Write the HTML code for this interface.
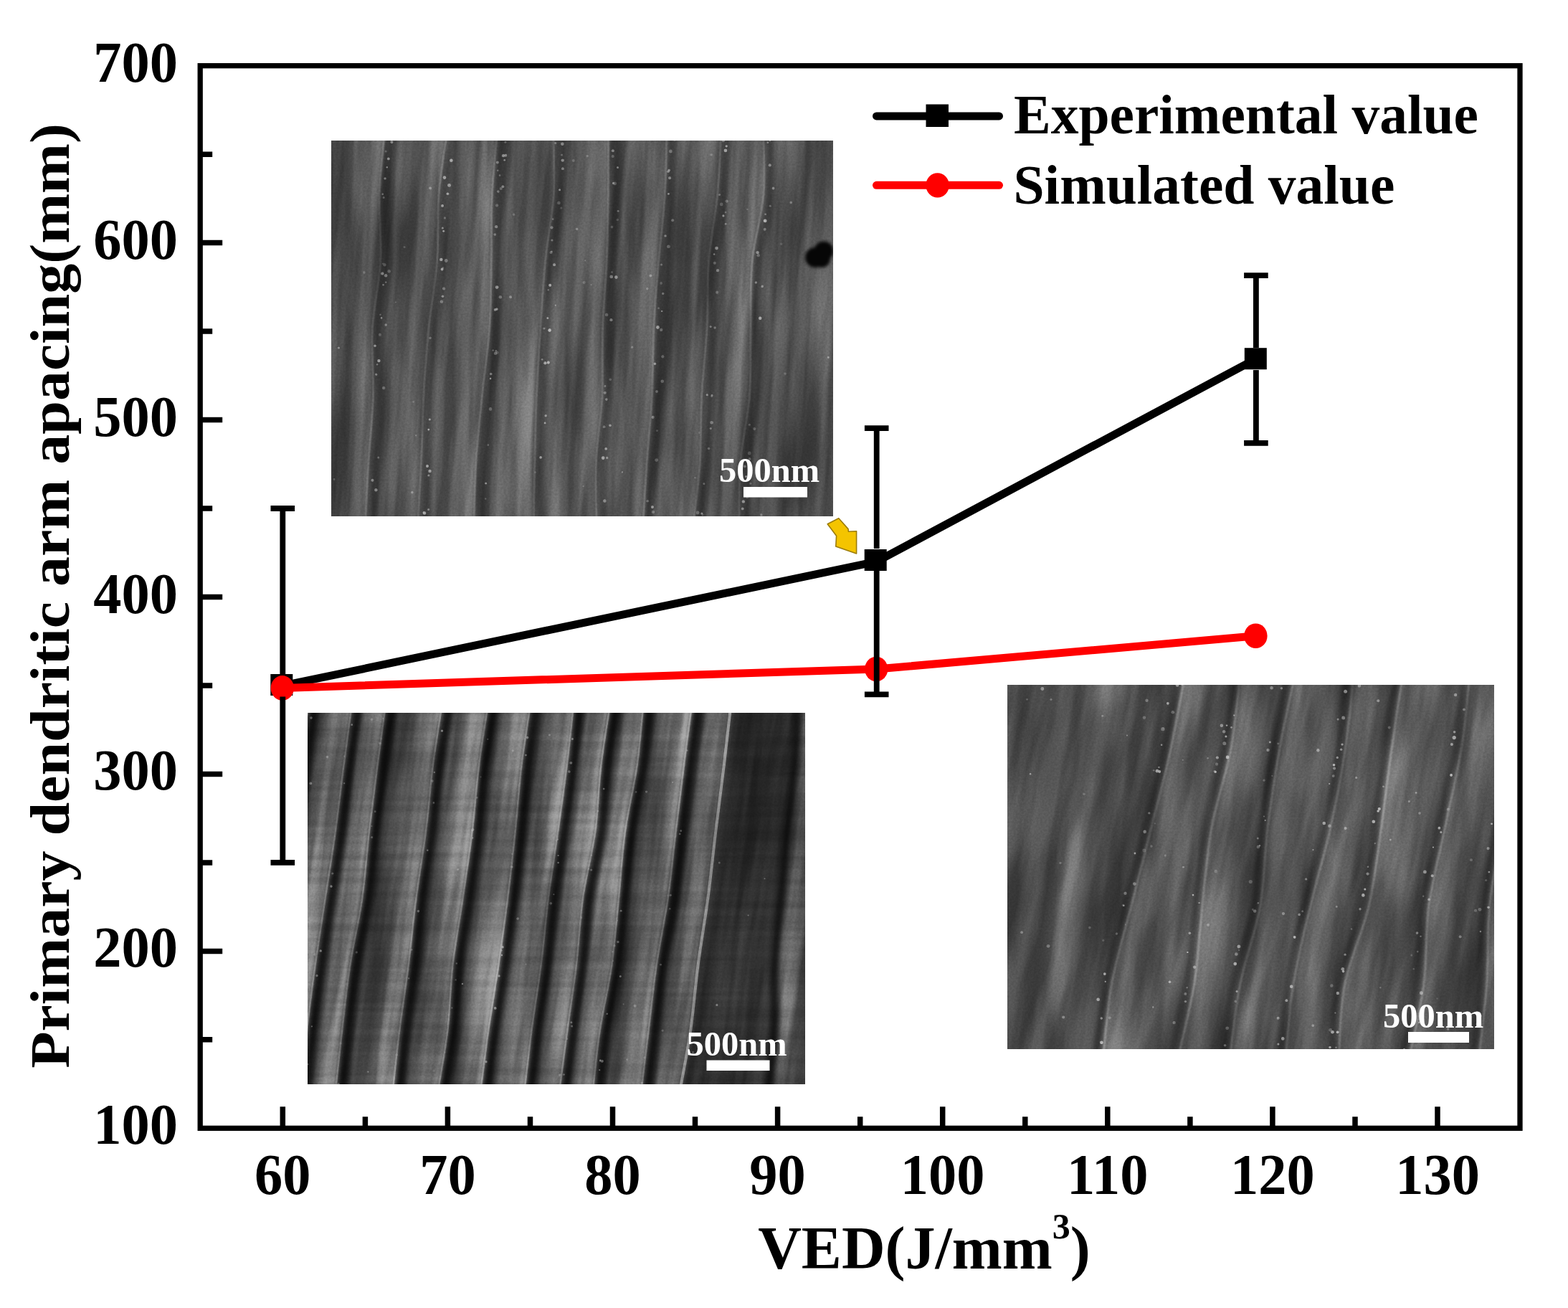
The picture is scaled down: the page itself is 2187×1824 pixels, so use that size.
<!DOCTYPE html>
<html><head><meta charset="utf-8"><title>Primary dendritic arm spacing vs VED</title>
<style>
html,body{margin:0;padding:0;background:#fff;}
body{width:2187px;height:1824px;overflow:hidden;}
svg{display:block;}
text{font-family:"Liberation Serif","Times New Roman",serif;font-weight:bold;fill:#000;}
</style></head><body>
<svg width="2187" height="1824" viewBox="0 0 2187 1824">
<defs>
<clipPath id="ci1"><rect x="462" y="196" width="700" height="524"/></clipPath>
<filter id="fi1_1" color-interpolation-filters="sRGB" filterUnits="userSpaceOnUse" x="422" y="156" width="780" height="604"><feGaussianBlur stdDeviation="1"/></filter>
<filter id="fi1_2" color-interpolation-filters="sRGB" filterUnits="userSpaceOnUse" x="422" y="156" width="780" height="604"><feGaussianBlur stdDeviation="2"/></filter>
<filter id="fi1_3_5" color-interpolation-filters="sRGB" filterUnits="userSpaceOnUse" x="422" y="156" width="780" height="604"><feGaussianBlur stdDeviation="3.5"/></filter>
<filter id="fi1_5" color-interpolation-filters="sRGB" filterUnits="userSpaceOnUse" x="422" y="156" width="780" height="604"><feGaussianBlur stdDeviation="5"/></filter>
<filter id="fi1_7" color-interpolation-filters="sRGB" filterUnits="userSpaceOnUse" x="422" y="156" width="780" height="604"><feGaussianBlur stdDeviation="7"/></filter>
<filter id="fi1_10" color-interpolation-filters="sRGB" filterUnits="userSpaceOnUse" x="422" y="156" width="780" height="604"><feGaussianBlur stdDeviation="10"/></filter>
<filter id="fi1_14" color-interpolation-filters="sRGB" filterUnits="userSpaceOnUse" x="422" y="156" width="780" height="604"><feGaussianBlur stdDeviation="14"/></filter>
<clipPath id="ci2"><rect x="429" y="994" width="694" height="518"/></clipPath>
<filter id="fi2_1" color-interpolation-filters="sRGB" filterUnits="userSpaceOnUse" x="389" y="954" width="774" height="598"><feGaussianBlur stdDeviation="1"/></filter>
<filter id="fi2_2" color-interpolation-filters="sRGB" filterUnits="userSpaceOnUse" x="389" y="954" width="774" height="598"><feGaussianBlur stdDeviation="2"/></filter>
<filter id="fi2_3_5" color-interpolation-filters="sRGB" filterUnits="userSpaceOnUse" x="389" y="954" width="774" height="598"><feGaussianBlur stdDeviation="3.5"/></filter>
<filter id="fi2_5" color-interpolation-filters="sRGB" filterUnits="userSpaceOnUse" x="389" y="954" width="774" height="598"><feGaussianBlur stdDeviation="5"/></filter>
<filter id="fi2_7" color-interpolation-filters="sRGB" filterUnits="userSpaceOnUse" x="389" y="954" width="774" height="598"><feGaussianBlur stdDeviation="7"/></filter>
<filter id="fi2_10" color-interpolation-filters="sRGB" filterUnits="userSpaceOnUse" x="389" y="954" width="774" height="598"><feGaussianBlur stdDeviation="10"/></filter>
<filter id="fi2_14" color-interpolation-filters="sRGB" filterUnits="userSpaceOnUse" x="389" y="954" width="774" height="598"><feGaussianBlur stdDeviation="14"/></filter>
<clipPath id="ci3"><rect x="1405" y="955" width="679" height="508"/></clipPath>
<filter id="fi3_1" color-interpolation-filters="sRGB" filterUnits="userSpaceOnUse" x="1365" y="915" width="759" height="588"><feGaussianBlur stdDeviation="1"/></filter>
<filter id="fi3_2" color-interpolation-filters="sRGB" filterUnits="userSpaceOnUse" x="1365" y="915" width="759" height="588"><feGaussianBlur stdDeviation="2"/></filter>
<filter id="fi3_3_5" color-interpolation-filters="sRGB" filterUnits="userSpaceOnUse" x="1365" y="915" width="759" height="588"><feGaussianBlur stdDeviation="3.5"/></filter>
<filter id="fi3_5" color-interpolation-filters="sRGB" filterUnits="userSpaceOnUse" x="1365" y="915" width="759" height="588"><feGaussianBlur stdDeviation="5"/></filter>
<filter id="fi3_7" color-interpolation-filters="sRGB" filterUnits="userSpaceOnUse" x="1365" y="915" width="759" height="588"><feGaussianBlur stdDeviation="7"/></filter>
<filter id="fi3_10" color-interpolation-filters="sRGB" filterUnits="userSpaceOnUse" x="1365" y="915" width="759" height="588"><feGaussianBlur stdDeviation="10"/></filter>
<filter id="fi3_14" color-interpolation-filters="sRGB" filterUnits="userSpaceOnUse" x="1365" y="915" width="759" height="588"><feGaussianBlur stdDeviation="14"/></filter>
<filter id="grain" color-interpolation-filters="sRGB" x="0" y="0" width="100%" height="100%">
  <feTurbulence type="fractalNoise" baseFrequency="0.35" numOctaves="2" seed="4"/>
  <feColorMatrix type="matrix" values="2 0 0 0 -0.5  2 0 0 0 -0.5  2 0 0 0 -0.5  0 0 0 0 1"/>
</filter>
<filter id="streakV" color-interpolation-filters="sRGB" x="0" y="0" width="100%" height="100%">
  <feTurbulence type="fractalNoise" baseFrequency="0.05 0.004" numOctaves="3" seed="9"/>
  <feColorMatrix type="matrix" values="2.4 0 0 0 -0.7  2.4 0 0 0 -0.7  2.4 0 0 0 -0.7  0 0 0 0 1"/>
</filter>
<filter id="streakV2" color-interpolation-filters="sRGB" x="0" y="0" width="100%" height="100%">
  <feTurbulence type="fractalNoise" baseFrequency="0.035 0.005" numOctaves="3" seed="21"/>
  <feColorMatrix type="matrix" values="2.4 0 0 0 -0.7  2.4 0 0 0 -0.7  2.4 0 0 0 -0.7  0 0 0 0 1"/>
</filter>
<filter id="streakH" color-interpolation-filters="sRGB" x="0" y="0" width="100%" height="100%">
  <feTurbulence type="fractalNoise" baseFrequency="0.004 0.09" numOctaves="2" seed="13"/>
  <feColorMatrix type="matrix" values="2.2 0 0 0 -0.6  2.2 0 0 0 -0.6  2.2 0 0 0 -0.6  0 0 0 0 1"/>
</filter>
<filter id="blob" color-interpolation-filters="sRGB" x="0" y="0" width="100%" height="100%">
  <feTurbulence type="fractalNoise" baseFrequency="0.01 0.004" numOctaves="2" seed="31"/>
  <feColorMatrix type="matrix" values="2 0 0 0 -0.5  2 0 0 0 -0.5  2 0 0 0 -0.5  0 0 0 0 1"/>
</filter>
</defs>
<rect x="0" y="0" width="2187" height="1824" fill="#fff"/>
<g clip-path="url(#ci1)">
<rect x="462" y="196" width="700" height="524" fill="#4f4f4f"/>
<g filter="url(#fi1_7)"><path d="M526.3,176.0C525.0,191.7 519.4,238.7 518.3,270.0C517.2,301.3 521.5,332.7 519.8,364.0C518.2,395.3 510.1,426.7 508.4,458.0C506.6,489.3 510.3,520.7 509.4,552.0C508.5,583.3 504.8,614.7 502.9,646.0C501.0,677.3 499.0,724.3 498.2,740.0" fill="none" stroke="#636363" stroke-width="22" stroke-opacity="0.85"/><path d="M568.3,176.0C567.0,191.7 561.4,238.7 560.3,270.0C559.2,301.3 563.5,332.7 561.8,364.0C560.2,395.3 552.1,426.7 550.4,458.0C548.6,489.3 552.3,520.7 551.4,552.0C550.5,583.3 546.8,614.7 544.9,646.0C543.0,677.3 541.0,724.3 540.2,740.0" fill="none" stroke="#5c5c5c" stroke-width="16" stroke-opacity="0.6"/><path d="M614.0,176.0C611.9,191.7 603.7,238.7 601.1,270.0C598.5,301.3 600.9,332.7 598.5,364.0C596.2,395.3 590.0,426.7 586.8,458.0C583.7,489.3 581.5,520.7 579.8,552.0C578.0,583.3 577.8,614.7 576.4,646.0C575.0,677.3 572.2,724.3 571.3,740.0" fill="none" stroke="#636363" stroke-width="22" stroke-opacity="0.85"/><path d="M656.0,176.0C653.9,191.7 645.7,238.7 643.1,270.0C640.5,301.3 642.9,332.7 640.5,364.0C638.2,395.3 632.0,426.7 628.8,458.0C625.7,489.3 623.5,520.7 621.8,552.0C620.0,583.3 619.8,614.7 618.4,646.0C617.0,677.3 614.2,724.3 613.3,740.0" fill="none" stroke="#5c5c5c" stroke-width="16" stroke-opacity="0.6"/><path d="M683.5,176.0C682.2,191.7 677.1,238.7 675.5,270.0C674.0,301.3 674.8,332.7 674.2,364.0C673.6,395.3 674.0,426.7 671.9,458.0C669.7,489.3 664.4,520.7 661.3,552.0C658.1,583.3 654.8,614.7 652.9,646.0C651.0,677.3 650.4,724.3 649.9,740.0" fill="none" stroke="#636363" stroke-width="22" stroke-opacity="0.85"/><path d="M725.5,176.0C724.2,191.7 719.1,238.7 717.5,270.0C716.0,301.3 716.8,332.7 716.2,364.0C715.6,395.3 716.0,426.7 713.9,458.0C711.7,489.3 706.4,520.7 703.3,552.0C700.1,583.3 696.8,614.7 694.9,646.0C693.0,677.3 692.4,724.3 691.9,740.0" fill="none" stroke="#5c5c5c" stroke-width="16" stroke-opacity="0.6"/><path d="M760.2,176.0C760.4,191.7 763.1,238.7 761.3,270.0C759.5,301.3 752.6,332.7 749.5,364.0C746.4,395.3 744.7,426.7 742.7,458.0C740.7,489.3 738.8,520.7 737.4,552.0C736.1,583.3 735.4,614.7 734.7,646.0C734.0,677.3 733.5,724.3 733.3,740.0" fill="none" stroke="#636363" stroke-width="22" stroke-opacity="0.85"/><path d="M802.2,176.0C802.4,191.7 805.1,238.7 803.3,270.0C801.5,301.3 794.6,332.7 791.5,364.0C788.4,395.3 786.7,426.7 784.7,458.0C782.7,489.3 780.8,520.7 779.4,552.0C778.1,583.3 777.4,614.7 776.7,646.0C776.0,677.3 775.5,724.3 775.3,740.0" fill="none" stroke="#5c5c5c" stroke-width="16" stroke-opacity="0.6"/><path d="M837.7,176.0C837.7,191.7 837.7,238.7 837.3,270.0C836.9,301.3 836.6,332.7 835.3,364.0C834.0,395.3 830.5,426.7 829.5,458.0C828.4,489.3 830.4,520.7 828.9,552.0C827.4,583.3 821.7,614.7 820.4,646.0C819.1,677.3 821.1,724.3 821.2,740.0" fill="none" stroke="#636363" stroke-width="22" stroke-opacity="0.85"/><path d="M879.7,176.0C879.7,191.7 879.7,238.7 879.3,270.0C878.9,301.3 878.6,332.7 877.3,364.0C876.0,395.3 872.5,426.7 871.5,458.0C870.4,489.3 872.4,520.7 870.9,552.0C869.4,583.3 863.7,614.7 862.4,646.0C861.1,677.3 863.1,724.3 863.2,740.0" fill="none" stroke="#5c5c5c" stroke-width="16" stroke-opacity="0.6"/><path d="M918.8,176.0C918.4,191.7 918.3,238.7 916.5,270.0C914.7,301.3 910.4,332.7 907.8,364.0C905.2,395.3 902.3,426.7 900.8,458.0C899.2,489.3 900.0,520.7 898.4,552.0C896.7,583.3 893.3,614.7 891.1,646.0C888.9,677.3 886.2,724.3 885.2,740.0" fill="none" stroke="#636363" stroke-width="22" stroke-opacity="0.85"/><path d="M960.8,176.0C960.4,191.7 960.3,238.7 958.5,270.0C956.7,301.3 952.4,332.7 949.8,364.0C947.2,395.3 944.3,426.7 942.8,458.0C941.2,489.3 942.0,520.7 940.4,552.0C938.7,583.3 935.3,614.7 933.1,646.0C930.9,677.3 928.2,724.3 927.2,740.0" fill="none" stroke="#5c5c5c" stroke-width="16" stroke-opacity="0.6"/><path d="M995.2,176.0C994.3,191.7 992.7,238.7 989.7,270.0C986.8,301.3 980.1,332.7 977.6,364.0C975.1,395.3 976.6,426.7 974.9,458.0C973.2,489.3 969.3,520.7 967.6,552.0C966.0,583.3 967.3,614.7 965.2,646.0C963.0,677.3 956.6,724.3 954.9,740.0" fill="none" stroke="#636363" stroke-width="22" stroke-opacity="0.85"/><path d="M1037.2,176.0C1036.3,191.7 1034.7,238.7 1031.7,270.0C1028.8,301.3 1022.1,332.7 1019.6,364.0C1017.1,395.3 1018.6,426.7 1016.9,458.0C1015.2,489.3 1011.3,520.7 1009.6,552.0C1008.0,583.3 1009.3,614.7 1007.2,646.0C1005.0,677.3 998.6,724.3 996.9,740.0" fill="none" stroke="#5c5c5c" stroke-width="16" stroke-opacity="0.6"/><path d="M1053.2,176.0C1053.3,191.7 1056.6,238.7 1054.1,270.0C1051.6,301.3 1041.1,332.7 1038.1,364.0C1035.1,395.3 1036.6,426.7 1036.0,458.0C1035.4,489.3 1036.8,520.7 1034.4,552.0C1032.0,583.3 1023.9,614.7 1021.5,646.0C1019.1,677.3 1020.2,724.3 1020.0,740.0" fill="none" stroke="#636363" stroke-width="22" stroke-opacity="0.85"/><path d="M1095.2,176.0C1095.3,191.7 1098.6,238.7 1096.1,270.0C1093.6,301.3 1083.1,332.7 1080.1,364.0C1077.1,395.3 1078.6,426.7 1078.0,458.0C1077.4,489.3 1078.8,520.7 1076.4,552.0C1074.0,583.3 1065.9,614.7 1063.5,646.0C1061.1,677.3 1062.2,724.3 1062.0,740.0" fill="none" stroke="#5c5c5c" stroke-width="16" stroke-opacity="0.6"/><path d="M476.5,176.0C475.9,194.8 472.9,251.2 472.4,288.8C471.9,326.4 473.5,364.0 473.8,401.6C474.0,439.2 473.8,476.8 473.7,514.4C473.6,552.0 473.8,589.6 473.0,627.2C472.1,664.8 469.4,721.2 468.6,740.0" fill="none" stroke="#444" stroke-width="20" stroke-opacity="0.8"/></g>
<g filter="url(#fi1_3_5)"><path d="M546.3,176.0C545.0,191.7 539.4,238.7 538.3,270.0C537.2,301.3 541.5,332.7 539.8,364.0C538.2,395.3 530.1,426.7 528.4,458.0C526.6,489.3 530.3,520.7 529.4,552.0C528.5,583.3 524.8,614.7 522.9,646.0C521.0,677.3 519.0,724.3 518.2,740.0" fill="none" stroke="#333" stroke-width="13" stroke-opacity="0.8"/><path d="M634.0,176.0C631.9,191.7 623.7,238.7 621.1,270.0C618.5,301.3 620.9,332.7 618.5,364.0C616.2,395.3 610.0,426.7 606.8,458.0C603.7,489.3 601.5,520.7 599.8,552.0C598.0,583.3 597.8,614.7 596.4,646.0C595.0,677.3 592.2,724.3 591.3,740.0" fill="none" stroke="#333" stroke-width="13" stroke-opacity="0.8"/><path d="M703.5,176.0C702.2,191.7 697.1,238.7 695.5,270.0C694.0,301.3 694.8,332.7 694.2,364.0C693.6,395.3 694.0,426.7 691.9,458.0C689.7,489.3 684.4,520.7 681.3,552.0C678.1,583.3 674.8,614.7 672.9,646.0C671.0,677.3 670.4,724.3 669.9,740.0" fill="none" stroke="#333" stroke-width="13" stroke-opacity="0.8"/><path d="M780.2,176.0C780.4,191.7 783.1,238.7 781.3,270.0C779.5,301.3 772.6,332.7 769.5,364.0C766.4,395.3 764.7,426.7 762.7,458.0C760.7,489.3 758.8,520.7 757.4,552.0C756.1,583.3 755.4,614.7 754.7,646.0C754.0,677.3 753.5,724.3 753.3,740.0" fill="none" stroke="#333" stroke-width="13" stroke-opacity="0.8"/><path d="M857.7,176.0C857.7,191.7 857.7,238.7 857.3,270.0C856.9,301.3 856.6,332.7 855.3,364.0C854.0,395.3 850.5,426.7 849.5,458.0C848.4,489.3 850.4,520.7 848.9,552.0C847.4,583.3 841.7,614.7 840.4,646.0C839.1,677.3 841.1,724.3 841.2,740.0" fill="none" stroke="#333" stroke-width="13" stroke-opacity="0.8"/><path d="M938.8,176.0C938.4,191.7 938.3,238.7 936.5,270.0C934.7,301.3 930.4,332.7 927.8,364.0C925.2,395.3 922.3,426.7 920.8,458.0C919.2,489.3 920.0,520.7 918.4,552.0C916.7,583.3 913.3,614.7 911.1,646.0C908.9,677.3 906.2,724.3 905.2,740.0" fill="none" stroke="#333" stroke-width="13" stroke-opacity="0.8"/><path d="M1015.2,176.0C1014.3,191.7 1012.7,238.7 1009.7,270.0C1006.8,301.3 1000.1,332.7 997.6,364.0C995.1,395.3 996.6,426.7 994.9,458.0C993.2,489.3 989.3,520.7 987.6,552.0C986.0,583.3 987.3,614.7 985.2,646.0C983.0,677.3 976.6,724.3 974.9,740.0" fill="none" stroke="#333" stroke-width="13" stroke-opacity="0.8"/><path d="M1073.2,176.0C1073.3,191.7 1076.6,238.7 1074.1,270.0C1071.6,301.3 1061.1,332.7 1058.1,364.0C1055.1,395.3 1056.6,426.7 1056.0,458.0C1055.4,489.3 1056.8,520.7 1054.4,552.0C1052.0,583.3 1043.9,614.7 1041.5,646.0C1039.1,677.3 1040.2,724.3 1040.0,740.0" fill="none" stroke="#333" stroke-width="13" stroke-opacity="0.8"/></g>
<g filter="url(#fi1_1_5)"><path d="M537.3,176.0C536.0,191.7 530.4,238.7 529.3,270.0C528.2,301.3 532.5,332.7 530.8,364.0C529.2,395.3 521.1,426.7 519.4,458.0C517.6,489.3 521.3,520.7 520.4,552.0C519.5,583.3 515.8,614.7 513.9,646.0C512.0,677.3 510.0,724.3 509.2,740.0" fill="none" stroke="#7a7a7a" stroke-width="3" stroke-opacity="0.5"/><path d="M625.0,176.0C622.9,191.7 614.7,238.7 612.1,270.0C609.5,301.3 611.9,332.7 609.5,364.0C607.2,395.3 601.0,426.7 597.8,458.0C594.7,489.3 592.5,520.7 590.8,552.0C589.0,583.3 588.8,614.7 587.4,646.0C586.0,677.3 583.2,724.3 582.3,740.0" fill="none" stroke="#7a7a7a" stroke-width="3" stroke-opacity="0.5"/><path d="M694.5,176.0C693.2,191.7 688.1,238.7 686.5,270.0C685.0,301.3 685.8,332.7 685.2,364.0C684.6,395.3 685.0,426.7 682.9,458.0C680.7,489.3 675.4,520.7 672.3,552.0C669.1,583.3 665.8,614.7 663.9,646.0C662.0,677.3 661.4,724.3 660.9,740.0" fill="none" stroke="#7a7a7a" stroke-width="3" stroke-opacity="0.5"/><path d="M771.2,176.0C771.4,191.7 774.1,238.7 772.3,270.0C770.5,301.3 763.6,332.7 760.5,364.0C757.4,395.3 755.7,426.7 753.7,458.0C751.7,489.3 749.8,520.7 748.4,552.0C747.1,583.3 746.4,614.7 745.7,646.0C745.0,677.3 744.5,724.3 744.3,740.0" fill="none" stroke="#7a7a7a" stroke-width="3" stroke-opacity="0.5"/><path d="M848.7,176.0C848.7,191.7 848.7,238.7 848.3,270.0C847.9,301.3 847.6,332.7 846.3,364.0C845.0,395.3 841.5,426.7 840.5,458.0C839.4,489.3 841.4,520.7 839.9,552.0C838.4,583.3 832.7,614.7 831.4,646.0C830.1,677.3 832.1,724.3 832.2,740.0" fill="none" stroke="#7a7a7a" stroke-width="3" stroke-opacity="0.5"/><path d="M929.8,176.0C929.4,191.7 929.3,238.7 927.5,270.0C925.7,301.3 921.4,332.7 918.8,364.0C916.2,395.3 913.3,426.7 911.8,458.0C910.2,489.3 911.0,520.7 909.4,552.0C907.7,583.3 904.3,614.7 902.1,646.0C899.9,677.3 897.2,724.3 896.2,740.0" fill="none" stroke="#7a7a7a" stroke-width="3" stroke-opacity="0.5"/><path d="M1006.2,176.0C1005.3,191.7 1003.7,238.7 1000.7,270.0C997.8,301.3 991.1,332.7 988.6,364.0C986.1,395.3 987.6,426.7 985.9,458.0C984.2,489.3 980.3,520.7 978.6,552.0C977.0,583.3 978.3,614.7 976.2,646.0C974.0,677.3 967.6,724.3 965.9,740.0" fill="none" stroke="#7a7a7a" stroke-width="3" stroke-opacity="0.5"/><path d="M1064.2,176.0C1064.3,191.7 1067.6,238.7 1065.1,270.0C1062.6,301.3 1052.1,332.7 1049.1,364.0C1046.1,395.3 1047.6,426.7 1047.0,458.0C1046.4,489.3 1047.8,520.7 1045.4,552.0C1043.0,583.3 1034.9,614.7 1032.5,646.0C1030.1,677.3 1031.2,724.3 1031.0,740.0" fill="none" stroke="#7a7a7a" stroke-width="3" stroke-opacity="0.5"/></g>
<circle cx="546.4" cy="198.1" r="2.1" fill="#b8b8b8" fill-opacity="0.61"/><circle cx="519.5" cy="669.8" r="2.0" fill="#b8b8b8" fill-opacity="0.62"/><circle cx="528.4" cy="503.1" r="2.2" fill="#b8b8b8" fill-opacity="0.78"/><circle cx="532.1" cy="443.4" r="1.3" fill="#b8b8b8" fill-opacity="0.67"/><circle cx="535.2" cy="541.0" r="2.2" fill="#b8b8b8" fill-opacity="0.48"/><circle cx="538.2" cy="393.6" r="1.2" fill="#b8b8b8" fill-opacity="0.56"/><circle cx="533.7" cy="270.8" r="1.3" fill="#b8b8b8" fill-opacity="0.70"/><circle cx="537.1" cy="248.9" r="1.7" fill="#b8b8b8" fill-opacity="0.74"/><circle cx="541.8" cy="221.4" r="1.9" fill="#b8b8b8" fill-opacity="0.75"/><circle cx="527.8" cy="638.1" r="1.5" fill="#b8b8b8" fill-opacity="0.54"/><circle cx="542.7" cy="378.3" r="2.3" fill="#b8b8b8" fill-opacity="0.42"/><circle cx="535.2" cy="275.4" r="1.5" fill="#b8b8b8" fill-opacity="0.57"/><circle cx="526.1" cy="508.3" r="1.2" fill="#b8b8b8" fill-opacity="0.54"/><circle cx="538.1" cy="384.3" r="2.3" fill="#b8b8b8" fill-opacity="0.66"/><circle cx="529.9" cy="466.7" r="2.0" fill="#b8b8b8" fill-opacity="0.37"/><circle cx="524.4" cy="683.3" r="2.2" fill="#b8b8b8" fill-opacity="0.71"/><circle cx="534.5" cy="397.3" r="1.3" fill="#b8b8b8" fill-opacity="0.64"/><circle cx="538.1" cy="211.1" r="1.5" fill="#b8b8b8" fill-opacity="0.42"/><circle cx="534.0" cy="367.8" r="1.2" fill="#b8b8b8" fill-opacity="0.42"/><circle cx="539.8" cy="233.2" r="1.2" fill="#b8b8b8" fill-opacity="0.74"/><circle cx="524.9" cy="522.3" r="1.5" fill="#b8b8b8" fill-opacity="0.51"/><circle cx="533.2" cy="381.4" r="2.2" fill="#b8b8b8" fill-opacity="0.80"/><circle cx="530.5" cy="438.8" r="1.3" fill="#b8b8b8" fill-opacity="0.40"/><circle cx="536.3" cy="369.2" r="2.2" fill="#b8b8b8" fill-opacity="0.42"/><circle cx="550.6" cy="189.0" r="1.8" fill="#b8b8b8" fill-opacity="0.42"/><circle cx="523.0" cy="482.3" r="1.8" fill="#b8b8b8" fill-opacity="0.79"/><circle cx="597.9" cy="662.9" r="1.5" fill="#b8b8b8" fill-opacity="0.52"/><circle cx="624.4" cy="270.2" r="1.8" fill="#b8b8b8" fill-opacity="0.70"/><circle cx="615.3" cy="361.9" r="2.2" fill="#b8b8b8" fill-opacity="0.79"/><circle cx="599.5" cy="656.9" r="2.2" fill="#b8b8b8" fill-opacity="0.68"/><circle cx="620.4" cy="303.9" r="1.6" fill="#b8b8b8" fill-opacity="0.36"/><circle cx="629.2" cy="191.8" r="1.5" fill="#b8b8b8" fill-opacity="0.66"/><circle cx="592.0" cy="715.5" r="2.3" fill="#b8b8b8" fill-opacity="0.79"/><circle cx="591.1" cy="714.6" r="1.5" fill="#b8b8b8" fill-opacity="0.45"/><circle cx="617.1" cy="286.9" r="1.9" fill="#b8b8b8" fill-opacity="0.76"/><circle cx="596.0" cy="650.0" r="2.0" fill="#b8b8b8" fill-opacity="0.71"/><circle cx="629.4" cy="223.8" r="2.3" fill="#b8b8b8" fill-opacity="0.70"/><circle cx="597.8" cy="599.1" r="1.4" fill="#b8b8b8" fill-opacity="0.71"/><circle cx="622.2" cy="363.5" r="2.4" fill="#b8b8b8" fill-opacity="0.53"/><circle cx="619.1" cy="402.4" r="2.1" fill="#b8b8b8" fill-opacity="0.43"/><circle cx="620.0" cy="247.6" r="2.3" fill="#b8b8b8" fill-opacity="0.71"/><circle cx="626.6" cy="258.4" r="2.4" fill="#b8b8b8" fill-opacity="0.65"/><circle cx="617.9" cy="373.6" r="1.4" fill="#b8b8b8" fill-opacity="0.36"/><circle cx="594.0" cy="723.6" r="1.8" fill="#b8b8b8" fill-opacity="0.77"/><circle cx="615.9" cy="420.7" r="2.2" fill="#b8b8b8" fill-opacity="0.44"/><circle cx="617.3" cy="318.0" r="1.5" fill="#b8b8b8" fill-opacity="0.61"/><circle cx="618.7" cy="322.3" r="1.4" fill="#b8b8b8" fill-opacity="0.76"/><circle cx="616.6" cy="375.5" r="1.9" fill="#b8b8b8" fill-opacity="0.76"/><circle cx="617.4" cy="413.2" r="1.8" fill="#b8b8b8" fill-opacity="0.59"/><circle cx="600.1" cy="471.3" r="1.7" fill="#b8b8b8" fill-opacity="0.43"/><circle cx="637.3" cy="178.2" r="1.4" fill="#b8b8b8" fill-opacity="0.56"/><circle cx="599.3" cy="585.0" r="1.6" fill="#b8b8b8" fill-opacity="0.58"/><circle cx="691.8" cy="489.3" r="1.3" fill="#b8b8b8" fill-opacity="0.60"/><circle cx="692.2" cy="316.2" r="2.1" fill="#b8b8b8" fill-opacity="0.58"/><circle cx="691.1" cy="492.8" r="2.3" fill="#b8b8b8" fill-opacity="0.55"/><circle cx="684.8" cy="521.5" r="1.8" fill="#b8b8b8" fill-opacity="0.66"/><circle cx="692.9" cy="431.1" r="1.8" fill="#b8b8b8" fill-opacity="0.77"/><circle cx="684.1" cy="570.4" r="2.3" fill="#b8b8b8" fill-opacity="0.47"/><circle cx="693.4" cy="491.6" r="2.2" fill="#b8b8b8" fill-opacity="0.41"/><circle cx="697.0" cy="244.6" r="1.3" fill="#b8b8b8" fill-opacity="0.46"/><circle cx="702.0" cy="217.2" r="2.1" fill="#b8b8b8" fill-opacity="0.75"/><circle cx="698.7" cy="263.1" r="2.0" fill="#b8b8b8" fill-opacity="0.41"/><circle cx="677.6" cy="673.9" r="1.5" fill="#b8b8b8" fill-opacity="0.78"/><circle cx="693.1" cy="400.6" r="2.4" fill="#b8b8b8" fill-opacity="0.72"/><circle cx="694.9" cy="267.1" r="1.8" fill="#b8b8b8" fill-opacity="0.50"/><circle cx="693.1" cy="286.4" r="2.1" fill="#b8b8b8" fill-opacity="0.36"/><circle cx="687.7" cy="488.5" r="1.2" fill="#b8b8b8" fill-opacity="0.50"/><circle cx="684.1" cy="527.9" r="1.3" fill="#b8b8b8" fill-opacity="0.79"/><circle cx="680.8" cy="620.6" r="1.3" fill="#b8b8b8" fill-opacity="0.47"/><circle cx="704.9" cy="198.3" r="1.5" fill="#b8b8b8" fill-opacity="0.41"/><circle cx="697.9" cy="414.2" r="2.2" fill="#b8b8b8" fill-opacity="0.47"/><circle cx="701.4" cy="260.2" r="1.9" fill="#b8b8b8" fill-opacity="0.67"/><circle cx="693.9" cy="226.5" r="2.0" fill="#b8b8b8" fill-opacity="0.54"/><circle cx="705.3" cy="216.8" r="2.0" fill="#b8b8b8" fill-opacity="0.71"/><circle cx="703.8" cy="223.2" r="1.3" fill="#b8b8b8" fill-opacity="0.74"/><circle cx="690.6" cy="431.9" r="1.9" fill="#b8b8b8" fill-opacity="0.77"/><circle cx="690.3" cy="327.1" r="1.8" fill="#b8b8b8" fill-opacity="0.46"/><circle cx="694.2" cy="237.7" r="1.3" fill="#b8b8b8" fill-opacity="0.44"/><circle cx="768.6" cy="352.0" r="2.1" fill="#b8b8b8" fill-opacity="0.48"/><circle cx="758.9" cy="458.0" r="1.6" fill="#b8b8b8" fill-opacity="0.36"/><circle cx="769.5" cy="317.3" r="2.1" fill="#b8b8b8" fill-opacity="0.60"/><circle cx="779.4" cy="282.9" r="2.3" fill="#b8b8b8" fill-opacity="0.40"/><circle cx="754.1" cy="637.9" r="1.8" fill="#b8b8b8" fill-opacity="0.73"/><circle cx="767.1" cy="397.7" r="2.0" fill="#b8b8b8" fill-opacity="0.79"/><circle cx="773.1" cy="369.3" r="2.0" fill="#b8b8b8" fill-opacity="0.64"/><circle cx="764.8" cy="404.2" r="1.3" fill="#b8b8b8" fill-opacity="0.41"/><circle cx="783.6" cy="215.9" r="1.5" fill="#b8b8b8" fill-opacity="0.42"/><circle cx="784.8" cy="223.6" r="2.2" fill="#b8b8b8" fill-opacity="0.65"/><circle cx="770.0" cy="335.0" r="1.6" fill="#b8b8b8" fill-opacity="0.56"/><circle cx="780.6" cy="264.8" r="1.5" fill="#b8b8b8" fill-opacity="0.78"/><circle cx="754.1" cy="724.6" r="1.5" fill="#b8b8b8" fill-opacity="0.78"/><circle cx="769.4" cy="350.6" r="1.2" fill="#b8b8b8" fill-opacity="0.52"/><circle cx="763.8" cy="443.7" r="1.4" fill="#b8b8b8" fill-opacity="0.58"/><circle cx="777.4" cy="178.8" r="1.3" fill="#b8b8b8" fill-opacity="0.53"/><circle cx="774.7" cy="199.5" r="1.6" fill="#b8b8b8" fill-opacity="0.45"/><circle cx="760.4" cy="506.3" r="2.1" fill="#b8b8b8" fill-opacity="0.65"/><circle cx="761.2" cy="579.8" r="1.7" fill="#b8b8b8" fill-opacity="0.50"/><circle cx="749.2" cy="731.4" r="2.1" fill="#b8b8b8" fill-opacity="0.64"/><circle cx="784.5" cy="200.7" r="2.3" fill="#b8b8b8" fill-opacity="0.63"/><circle cx="760.1" cy="589.9" r="1.4" fill="#b8b8b8" fill-opacity="0.59"/><circle cx="766.6" cy="460.5" r="2.2" fill="#b8b8b8" fill-opacity="0.72"/><circle cx="764.8" cy="505.4" r="2.0" fill="#b8b8b8" fill-opacity="0.66"/><circle cx="771.2" cy="305.7" r="1.4" fill="#b8b8b8" fill-opacity="0.51"/><circle cx="784.9" cy="235.2" r="1.9" fill="#b8b8b8" fill-opacity="0.63"/><circle cx="851.2" cy="529.2" r="1.8" fill="#b8b8b8" fill-opacity="0.35"/><circle cx="845.2" cy="625.9" r="1.8" fill="#b8b8b8" fill-opacity="0.59"/><circle cx="843.7" cy="547.8" r="2.1" fill="#b8b8b8" fill-opacity="0.46"/><circle cx="854.7" cy="218.0" r="2.1" fill="#b8b8b8" fill-opacity="0.44"/><circle cx="850.9" cy="593.3" r="1.8" fill="#b8b8b8" fill-opacity="0.52"/><circle cx="852.4" cy="446.2" r="2.1" fill="#b8b8b8" fill-opacity="0.63"/><circle cx="843.9" cy="538.5" r="1.4" fill="#b8b8b8" fill-opacity="0.46"/><circle cx="842.7" cy="595.2" r="1.9" fill="#b8b8b8" fill-opacity="0.36"/><circle cx="854.8" cy="210.2" r="2.0" fill="#b8b8b8" fill-opacity="0.66"/><circle cx="845.9" cy="557.1" r="1.8" fill="#b8b8b8" fill-opacity="0.56"/><circle cx="846.1" cy="439.0" r="2.3" fill="#b8b8b8" fill-opacity="0.44"/><circle cx="846.4" cy="727.7" r="1.2" fill="#b8b8b8" fill-opacity="0.56"/><circle cx="846.7" cy="638.4" r="1.7" fill="#b8b8b8" fill-opacity="0.47"/><circle cx="862.1" cy="294.3" r="1.5" fill="#b8b8b8" fill-opacity="0.61"/><circle cx="857.7" cy="255.9" r="2.3" fill="#b8b8b8" fill-opacity="0.41"/><circle cx="841.2" cy="638.6" r="2.3" fill="#b8b8b8" fill-opacity="0.67"/><circle cx="861.3" cy="306.5" r="1.8" fill="#b8b8b8" fill-opacity="0.36"/><circle cx="857.6" cy="178.0" r="1.7" fill="#b8b8b8" fill-opacity="0.49"/><circle cx="855.5" cy="255.4" r="1.6" fill="#b8b8b8" fill-opacity="0.73"/><circle cx="860.7" cy="177.0" r="2.2" fill="#b8b8b8" fill-opacity="0.40"/><circle cx="843.4" cy="698.5" r="2.3" fill="#b8b8b8" fill-opacity="0.48"/><circle cx="852.7" cy="385.9" r="2.4" fill="#b8b8b8" fill-opacity="0.62"/><circle cx="853.5" cy="379.4" r="1.5" fill="#b8b8b8" fill-opacity="0.37"/><circle cx="861.5" cy="233.4" r="1.5" fill="#b8b8b8" fill-opacity="0.77"/><circle cx="853.5" cy="316.6" r="1.8" fill="#b8b8b8" fill-opacity="0.44"/><circle cx="859.4" cy="386.6" r="2.3" fill="#b8b8b8" fill-opacity="0.72"/><circle cx="923.8" cy="531.8" r="2.3" fill="#b8b8b8" fill-opacity="0.60"/><circle cx="910.7" cy="581.8" r="2.1" fill="#b8b8b8" fill-opacity="0.55"/><circle cx="916.4" cy="600.5" r="1.5" fill="#b8b8b8" fill-opacity="0.37"/><circle cx="903.3" cy="698.7" r="1.8" fill="#b8b8b8" fill-opacity="0.50"/><circle cx="932.5" cy="343.9" r="2.4" fill="#b8b8b8" fill-opacity="0.47"/><circle cx="916.1" cy="546.0" r="1.9" fill="#b8b8b8" fill-opacity="0.53"/><circle cx="932.4" cy="270.4" r="1.4" fill="#b8b8b8" fill-opacity="0.76"/><circle cx="917.5" cy="456.4" r="2.3" fill="#b8b8b8" fill-opacity="0.80"/><circle cx="918.6" cy="429.8" r="1.4" fill="#b8b8b8" fill-opacity="0.39"/><circle cx="922.5" cy="368.9" r="1.5" fill="#b8b8b8" fill-opacity="0.47"/><circle cx="924.4" cy="497.3" r="2.1" fill="#b8b8b8" fill-opacity="0.54"/><circle cx="924.7" cy="409.4" r="1.7" fill="#b8b8b8" fill-opacity="0.50"/><circle cx="935.3" cy="211.0" r="2.4" fill="#b8b8b8" fill-opacity="0.41"/><circle cx="922.3" cy="459.9" r="2.2" fill="#b8b8b8" fill-opacity="0.45"/><circle cx="928.0" cy="328.9" r="1.7" fill="#b8b8b8" fill-opacity="0.55"/><circle cx="911.0" cy="714.0" r="2.2" fill="#b8b8b8" fill-opacity="0.36"/><circle cx="940.9" cy="194.2" r="2.3" fill="#b8b8b8" fill-opacity="0.56"/><circle cx="913.5" cy="507.2" r="1.7" fill="#b8b8b8" fill-opacity="0.77"/><circle cx="915.7" cy="641.6" r="2.4" fill="#b8b8b8" fill-opacity="0.46"/><circle cx="933.2" cy="237.5" r="1.8" fill="#b8b8b8" fill-opacity="0.66"/><circle cx="909.9" cy="707.0" r="2.0" fill="#b8b8b8" fill-opacity="0.69"/><circle cx="923.2" cy="433.9" r="1.2" fill="#b8b8b8" fill-opacity="0.70"/><circle cx="938.1" cy="307.2" r="2.0" fill="#b8b8b8" fill-opacity="0.49"/><circle cx="934.1" cy="248.2" r="2.0" fill="#b8b8b8" fill-opacity="0.66"/><circle cx="932.1" cy="239.2" r="1.8" fill="#b8b8b8" fill-opacity="0.61"/><circle cx="922.2" cy="394.9" r="1.9" fill="#b8b8b8" fill-opacity="0.35"/><circle cx="999.4" cy="346.1" r="2.4" fill="#b8b8b8" fill-opacity="0.64"/><circle cx="981.8" cy="674.4" r="1.5" fill="#b8b8b8" fill-opacity="0.46"/><circle cx="979.8" cy="717.8" r="1.6" fill="#b8b8b8" fill-opacity="0.36"/><circle cx="997.0" cy="457.0" r="1.7" fill="#b8b8b8" fill-opacity="0.47"/><circle cx="992.7" cy="552.4" r="1.5" fill="#b8b8b8" fill-opacity="0.37"/><circle cx="996.6" cy="366.7" r="2.0" fill="#b8b8b8" fill-opacity="0.44"/><circle cx="988.6" cy="625.5" r="1.8" fill="#b8b8b8" fill-opacity="0.44"/><circle cx="974.5" cy="723.0" r="2.2" fill="#b8b8b8" fill-opacity="0.45"/><circle cx="1008.9" cy="300.9" r="1.6" fill="#b8b8b8" fill-opacity="0.78"/><circle cx="991.2" cy="455.6" r="1.5" fill="#b8b8b8" fill-opacity="0.54"/><circle cx="993.1" cy="551.2" r="1.4" fill="#b8b8b8" fill-opacity="0.53"/><circle cx="1012.0" cy="296.1" r="1.4" fill="#b8b8b8" fill-opacity="0.37"/><circle cx="1011.9" cy="209.9" r="2.3" fill="#b8b8b8" fill-opacity="0.75"/><circle cx="992.6" cy="589.3" r="2.3" fill="#b8b8b8" fill-opacity="0.50"/><circle cx="1013.6" cy="280.6" r="2.1" fill="#b8b8b8" fill-opacity="0.36"/><circle cx="986.3" cy="550.7" r="1.6" fill="#b8b8b8" fill-opacity="0.50"/><circle cx="1003.6" cy="271.5" r="1.5" fill="#b8b8b8" fill-opacity="0.51"/><circle cx="973.1" cy="714.9" r="2.4" fill="#b8b8b8" fill-opacity="0.44"/><circle cx="1001.1" cy="377.1" r="2.2" fill="#b8b8b8" fill-opacity="0.54"/><circle cx="1013.2" cy="203.8" r="1.6" fill="#b8b8b8" fill-opacity="0.76"/><circle cx="1006.2" cy="284.9" r="2.3" fill="#b8b8b8" fill-opacity="0.36"/><circle cx="1000.1" cy="407.7" r="2.1" fill="#b8b8b8" fill-opacity="0.37"/><circle cx="1008.8" cy="195.7" r="2.3" fill="#b8b8b8" fill-opacity="0.47"/><circle cx="991.2" cy="597.5" r="1.6" fill="#b8b8b8" fill-opacity="0.47"/><circle cx="978.9" cy="716.1" r="1.5" fill="#b8b8b8" fill-opacity="0.67"/><circle cx="996.1" cy="354.5" r="1.2" fill="#b8b8b8" fill-opacity="0.69"/><circle cx="1042.3" cy="692.9" r="2.3" fill="#b8b8b8" fill-opacity="0.36"/><circle cx="1067.3" cy="307.9" r="2.3" fill="#b8b8b8" fill-opacity="0.78"/><circle cx="1054.4" cy="394.0" r="1.7" fill="#b8b8b8" fill-opacity="0.57"/><circle cx="1036.8" cy="699.4" r="2.2" fill="#b8b8b8" fill-opacity="0.68"/><circle cx="1045.6" cy="640.0" r="1.9" fill="#b8b8b8" fill-opacity="0.50"/><circle cx="1057.8" cy="356.2" r="2.1" fill="#b8b8b8" fill-opacity="0.39"/><circle cx="1074.2" cy="287.3" r="1.5" fill="#b8b8b8" fill-opacity="0.38"/><circle cx="1074.0" cy="195.1" r="1.6" fill="#b8b8b8" fill-opacity="0.79"/><circle cx="1046.9" cy="674.3" r="1.5" fill="#b8b8b8" fill-opacity="0.39"/><circle cx="1073.7" cy="230.4" r="2.1" fill="#b8b8b8" fill-opacity="0.55"/><circle cx="1066.6" cy="308.1" r="1.9" fill="#b8b8b8" fill-opacity="0.65"/><circle cx="1052.3" cy="597.9" r="2.0" fill="#b8b8b8" fill-opacity="0.40"/><circle cx="1038.9" cy="650.3" r="1.9" fill="#b8b8b8" fill-opacity="0.52"/><circle cx="1045.3" cy="592.3" r="1.5" fill="#b8b8b8" fill-opacity="0.46"/><circle cx="1078.6" cy="262.5" r="1.9" fill="#b8b8b8" fill-opacity="0.50"/><circle cx="1063.2" cy="399.4" r="1.8" fill="#b8b8b8" fill-opacity="0.45"/><circle cx="1045.3" cy="632.0" r="2.4" fill="#b8b8b8" fill-opacity="0.40"/><circle cx="1060.2" cy="443.8" r="2.2" fill="#b8b8b8" fill-opacity="0.76"/><circle cx="1070.9" cy="198.8" r="1.3" fill="#b8b8b8" fill-opacity="0.44"/><circle cx="1041.2" cy="724.8" r="2.3" fill="#b8b8b8" fill-opacity="0.52"/><circle cx="1040.6" cy="664.5" r="1.5" fill="#b8b8b8" fill-opacity="0.70"/><circle cx="1035.7" cy="709.4" r="1.9" fill="#b8b8b8" fill-opacity="0.63"/><circle cx="1067.6" cy="298.8" r="1.4" fill="#b8b8b8" fill-opacity="0.44"/><circle cx="1066.8" cy="319.8" r="2.0" fill="#b8b8b8" fill-opacity="0.44"/><circle cx="1071.1" cy="182.4" r="2.0" fill="#b8b8b8" fill-opacity="0.43"/><circle cx="1056.6" cy="352.1" r="2.2" fill="#b8b8b8" fill-opacity="0.60"/><circle cx="576.6" cy="560.4" r="1.4" fill="#b0b0b0" fill-opacity="0.38"/><circle cx="677.3" cy="695.5" r="1.3" fill="#b0b0b0" fill-opacity="0.47"/><circle cx="712.0" cy="414.2" r="1.9" fill="#b0b0b0" fill-opacity="0.60"/><circle cx="716.6" cy="299.3" r="1.7" fill="#b0b0b0" fill-opacity="0.36"/><circle cx="466.1" cy="668.5" r="1.4" fill="#b0b0b0" fill-opacity="0.55"/><circle cx="746.4" cy="658.6" r="1.5" fill="#b0b0b0" fill-opacity="0.35"/><circle cx="472.4" cy="485.0" r="1.6" fill="#b0b0b0" fill-opacity="0.57"/><circle cx="524.3" cy="522.0" r="1.4" fill="#b0b0b0" fill-opacity="0.45"/><circle cx="564.1" cy="344.4" r="1.5" fill="#b0b0b0" fill-opacity="0.58"/><circle cx="538.2" cy="453.0" r="1.8" fill="#b0b0b0" fill-opacity="0.59"/><circle cx="600.1" cy="262.4" r="1.9" fill="#b0b0b0" fill-opacity="0.59"/><circle cx="799.9" cy="224.0" r="1.9" fill="#b0b0b0" fill-opacity="0.42"/><circle cx="1095.0" cy="521.1" r="1.8" fill="#b0b0b0" fill-opacity="0.35"/><circle cx="1012.1" cy="312.4" r="1.4" fill="#b0b0b0" fill-opacity="0.55"/><circle cx="1042.4" cy="291.9" r="1.2" fill="#b0b0b0" fill-opacity="0.42"/><circle cx="824.5" cy="397.0" r="1.1" fill="#b0b0b0" fill-opacity="0.37"/><circle cx="969.4" cy="666.2" r="1.0" fill="#b0b0b0" fill-opacity="0.47"/><circle cx="992.2" cy="216.0" r="1.8" fill="#b0b0b0" fill-opacity="0.34"/><circle cx="881.7" cy="484.2" r="1.6" fill="#b0b0b0" fill-opacity="0.39"/><circle cx="756.1" cy="501.3" r="1.4" fill="#b0b0b0" fill-opacity="0.50"/><circle cx="774.8" cy="425.7" r="1.0" fill="#b0b0b0" fill-opacity="0.49"/><circle cx="804.7" cy="319.3" r="1.8" fill="#b0b0b0" fill-opacity="0.53"/><circle cx="782.8" cy="290.1" r="1.5" fill="#b0b0b0" fill-opacity="0.33"/><circle cx="551.9" cy="421.6" r="1.1" fill="#b0b0b0" fill-opacity="0.43"/><circle cx="819.1" cy="217.4" r="1.6" fill="#b0b0b0" fill-opacity="0.32"/><circle cx="975.4" cy="603.5" r="1.5" fill="#b0b0b0" fill-opacity="0.32"/><circle cx="814.7" cy="394.0" r="2.0" fill="#b0b0b0" fill-opacity="0.34"/><circle cx="1061.9" cy="718.0" r="1.7" fill="#b0b0b0" fill-opacity="0.54"/><circle cx="597.6" cy="710.4" r="1.5" fill="#b0b0b0" fill-opacity="0.59"/><circle cx="1103.2" cy="282.5" r="1.8" fill="#b0b0b0" fill-opacity="0.58"/><circle cx="507.9" cy="379.9" r="1.8" fill="#b0b0b0" fill-opacity="0.35"/><circle cx="1089.6" cy="340.1" r="1.8" fill="#b0b0b0" fill-opacity="0.34"/><circle cx="813.6" cy="678.0" r="1.2" fill="#b0b0b0" fill-opacity="0.38"/><circle cx="816.2" cy="363.2" r="1.0" fill="#b0b0b0" fill-opacity="0.35"/><circle cx="574.9" cy="686.7" r="1.7" fill="#b0b0b0" fill-opacity="0.57"/><circle cx="580.1" cy="607.3" r="1.1" fill="#b0b0b0" fill-opacity="0.46"/><circle cx="907.4" cy="384.5" r="1.9" fill="#b0b0b0" fill-opacity="0.47"/><circle cx="868.0" cy="658.4" r="1.1" fill="#b0b0b0" fill-opacity="0.60"/><circle cx="902.8" cy="402.6" r="1.8" fill="#b0b0b0" fill-opacity="0.38"/><circle cx="1155.3" cy="498.5" r="1.4" fill="#b0b0b0" fill-opacity="0.53"/>
<g transform="translate(812.0,458.0) skewX(-3) translate(-812.0,-458.0)">
<rect x="342" y="196" width="940" height="524" filter="url(#streakV)" opacity="0.22" style="mix-blend-mode:overlay"/>
</g>
<rect x="462" y="196" width="700" height="524" filter="url(#blob)" opacity="0.18" style="mix-blend-mode:overlay"/>
<rect x="462" y="196" width="700" height="524" filter="url(#grain)" opacity="0.06" style="mix-blend-mode:overlay"/>
<g filter="url(#fi1_2)" fill="#060606"><circle cx="1137" cy="359" r="14"/><circle cx="1149" cy="350" r="13.5"/><circle cx="1146" cy="361" r="12"/></g>
</g>
<text x="1003" y="672" font-size="48.5" style="fill:#fff">500nm</text>
<rect x="1037" y="679" width="89" height="14.5" fill="#fff"/>
<g clip-path="url(#ci2)">
<rect x="429" y="994" width="694" height="518" fill="#3e3e3e"/>
<g filter="url(#fi2_10)"><path d="M415.9,974.0C413.6,989.5 405.7,1036.0 402.0,1067.0C398.2,1098.0 397.4,1129.0 393.3,1160.0C389.1,1191.0 381.0,1222.0 377.0,1253.0C373.1,1284.0 373.4,1315.0 369.6,1346.0C365.7,1377.0 358.4,1408.0 354.1,1439.0C349.8,1470.0 345.5,1516.5 343.7,1532.0" fill="none" stroke="#7a7a7a" stroke-width="30" stroke-opacity="0.85"/><path d="M476.0,974.0C473.9,989.5 467.5,1036.0 463.4,1067.0C459.4,1098.0 456.1,1129.0 451.8,1160.0C447.5,1191.0 442.3,1222.0 437.6,1253.0C432.9,1284.0 428.0,1315.0 423.7,1346.0C419.3,1377.0 415.4,1408.0 411.8,1439.0C408.1,1470.0 403.4,1516.5 401.8,1532.0" fill="none" stroke="#7a7a7a" stroke-width="30" stroke-opacity="0.85"/><path d="M523.2,974.0C521.1,989.5 514.6,1036.0 510.5,1067.0C506.4,1098.0 502.5,1129.0 498.9,1160.0C495.3,1191.0 493.5,1222.0 489.1,1253.0C484.7,1284.0 477.1,1315.0 472.4,1346.0C467.7,1377.0 464.5,1408.0 460.9,1439.0C457.3,1470.0 452.5,1516.5 450.8,1532.0" fill="none" stroke="#7a7a7a" stroke-width="30" stroke-opacity="0.85"/><path d="M602.0,974.0C599.7,989.5 591.9,1036.0 587.9,1067.0C583.9,1098.0 581.9,1129.0 577.9,1160.0C574.0,1191.0 568.4,1222.0 564.4,1253.0C560.3,1284.0 557.7,1315.0 553.8,1346.0C549.9,1377.0 544.8,1408.0 540.9,1439.0C537.0,1470.0 532.3,1516.5 530.6,1532.0" fill="none" stroke="#7a7a7a" stroke-width="30" stroke-opacity="0.85"/><path d="M666.2,974.0C663.8,989.5 656.1,1036.0 652.1,1067.0C648.2,1098.0 646.3,1129.0 642.6,1160.0C638.8,1191.0 634.1,1222.0 629.6,1253.0C625.1,1284.0 619.0,1315.0 615.4,1346.0C611.9,1377.0 611.9,1408.0 608.2,1439.0C604.4,1470.0 595.5,1516.5 592.9,1532.0" fill="none" stroke="#7a7a7a" stroke-width="30" stroke-opacity="0.85"/><path d="M725.3,974.0C723.0,989.5 715.3,1036.0 711.5,1067.0C707.7,1098.0 705.9,1129.0 702.6,1160.0C699.4,1191.0 695.8,1222.0 692.0,1253.0C688.1,1284.0 683.8,1315.0 679.3,1346.0C674.8,1377.0 669.4,1408.0 665.0,1439.0C660.6,1470.0 655.0,1516.5 653.0,1532.0" fill="none" stroke="#7a7a7a" stroke-width="30" stroke-opacity="0.85"/><path d="M785.0,974.0C783.3,989.5 778.6,1036.0 774.8,1067.0C771.0,1098.0 766.5,1129.0 762.2,1160.0C757.9,1191.0 752.8,1222.0 748.8,1253.0C744.9,1284.0 742.5,1315.0 738.5,1346.0C734.6,1377.0 729.2,1408.0 725.2,1439.0C721.2,1470.0 716.1,1516.5 714.3,1532.0" fill="none" stroke="#7a7a7a" stroke-width="30" stroke-opacity="0.85"/><path d="M836.5,974.0C834.1,989.5 826.1,1036.0 822.4,1067.0C818.7,1098.0 818.5,1129.0 814.2,1160.0C810.0,1191.0 801.4,1222.0 797.0,1253.0C792.6,1284.0 791.5,1315.0 787.8,1346.0C784.2,1377.0 779.1,1408.0 775.0,1439.0C770.8,1470.0 764.9,1516.5 762.9,1532.0" fill="none" stroke="#7a7a7a" stroke-width="30" stroke-opacity="0.85"/><path d="M882.1,974.0C880.5,989.5 877.0,1036.0 872.6,1067.0C868.2,1098.0 860.2,1129.0 855.9,1160.0C851.6,1191.0 850.1,1222.0 847.0,1253.0C843.9,1284.0 841.7,1315.0 837.3,1346.0C832.8,1377.0 825.0,1408.0 820.4,1439.0C815.8,1470.0 811.6,1516.5 809.9,1532.0" fill="none" stroke="#7a7a7a" stroke-width="30" stroke-opacity="0.85"/><path d="M950.2,974.0C948.2,989.5 941.9,1036.0 938.0,1067.0C934.0,1098.0 930.4,1129.0 926.7,1160.0C922.9,1191.0 920.1,1222.0 915.6,1253.0C911.1,1284.0 904.2,1315.0 899.7,1346.0C895.2,1377.0 892.2,1408.0 888.4,1439.0C884.6,1470.0 879.0,1516.5 877.1,1532.0" fill="none" stroke="#7a7a7a" stroke-width="30" stroke-opacity="0.85"/><path d="M1004.3,974.0C1002.6,989.5 997.5,1036.0 993.8,1067.0C990.2,1098.0 985.9,1129.0 982.2,1160.0C978.4,1191.0 975.4,1222.0 971.3,1253.0C967.2,1284.0 961.6,1315.0 957.6,1346.0C953.5,1377.0 951.5,1408.0 946.9,1439.0C942.4,1470.0 933.0,1516.5 930.2,1532.0" fill="none" stroke="#7a7a7a" stroke-width="30" stroke-opacity="0.85"/><path d="M1129.0,974.0C1128.2,989.5 1127.0,1036.0 1124.6,1067.0C1122.2,1098.0 1117.7,1129.0 1114.6,1160.0C1111.4,1191.0 1108.7,1222.0 1105.7,1253.0C1102.6,1284.0 1098.0,1315.0 1096.4,1346.0C1094.9,1377.0 1097.8,1408.0 1096.4,1439.0C1095.0,1470.0 1089.4,1516.5 1088.0,1532.0" fill="none" stroke="#777" stroke-width="16" stroke-opacity="0.8"/></g>
<g filter="url(#fi2_3_5)"><path d="M427.9,974.0C425.6,989.5 417.7,1036.0 414.0,1067.0C410.2,1098.0 409.4,1129.0 405.3,1160.0C401.1,1191.0 393.0,1222.0 389.0,1253.0C385.1,1284.0 385.4,1315.0 381.6,1346.0C377.7,1377.0 370.4,1408.0 366.1,1439.0C361.8,1470.0 357.5,1516.5 355.7,1532.0" fill="none" stroke="#8e8e8e" stroke-width="9" stroke-opacity="0.75"/><path d="M440.9,974.0C438.6,989.5 430.7,1036.0 427.0,1067.0C423.2,1098.0 422.4,1129.0 418.3,1160.0C414.1,1191.0 406.0,1222.0 402.0,1253.0C398.1,1284.0 398.4,1315.0 394.6,1346.0C390.7,1377.0 383.4,1408.0 379.1,1439.0C374.8,1470.0 370.5,1516.5 368.7,1532.0" fill="none" stroke="#0a0a0a" stroke-width="15" stroke-opacity="0.9"/><path d="M488.0,974.0C485.9,989.5 479.5,1036.0 475.4,1067.0C471.4,1098.0 468.1,1129.0 463.8,1160.0C459.5,1191.0 454.3,1222.0 449.6,1253.0C444.9,1284.0 440.0,1315.0 435.7,1346.0C431.3,1377.0 427.4,1408.0 423.8,1439.0C420.1,1470.0 415.4,1516.5 413.8,1532.0" fill="none" stroke="#8e8e8e" stroke-width="9" stroke-opacity="0.75"/><path d="M501.0,974.0C498.9,989.5 492.5,1036.0 488.4,1067.0C484.4,1098.0 481.1,1129.0 476.8,1160.0C472.5,1191.0 467.3,1222.0 462.6,1253.0C457.9,1284.0 453.0,1315.0 448.7,1346.0C444.3,1377.0 440.4,1408.0 436.8,1439.0C433.1,1470.0 428.4,1516.5 426.8,1532.0" fill="none" stroke="#0a0a0a" stroke-width="15" stroke-opacity="0.9"/><path d="M535.2,974.0C533.1,989.5 526.6,1036.0 522.5,1067.0C518.4,1098.0 514.5,1129.0 510.9,1160.0C507.3,1191.0 505.5,1222.0 501.1,1253.0C496.7,1284.0 489.1,1315.0 484.4,1346.0C479.7,1377.0 476.5,1408.0 472.9,1439.0C469.3,1470.0 464.5,1516.5 462.8,1532.0" fill="none" stroke="#8e8e8e" stroke-width="9" stroke-opacity="0.75"/><path d="M548.2,974.0C546.1,989.5 539.6,1036.0 535.5,1067.0C531.4,1098.0 527.5,1129.0 523.9,1160.0C520.3,1191.0 518.5,1222.0 514.1,1253.0C509.7,1284.0 502.1,1315.0 497.4,1346.0C492.7,1377.0 489.5,1408.0 485.9,1439.0C482.3,1470.0 477.5,1516.5 475.8,1532.0" fill="none" stroke="#0a0a0a" stroke-width="15" stroke-opacity="0.9"/><path d="M614.0,974.0C611.7,989.5 603.9,1036.0 599.9,1067.0C595.9,1098.0 593.9,1129.0 589.9,1160.0C586.0,1191.0 580.4,1222.0 576.4,1253.0C572.3,1284.0 569.7,1315.0 565.8,1346.0C561.9,1377.0 556.8,1408.0 552.9,1439.0C549.0,1470.0 544.3,1516.5 542.6,1532.0" fill="none" stroke="#8e8e8e" stroke-width="9" stroke-opacity="0.75"/><path d="M627.0,974.0C624.7,989.5 616.9,1036.0 612.9,1067.0C608.9,1098.0 606.9,1129.0 602.9,1160.0C599.0,1191.0 593.4,1222.0 589.4,1253.0C585.3,1284.0 582.7,1315.0 578.8,1346.0C574.9,1377.0 569.8,1408.0 565.9,1439.0C562.0,1470.0 557.3,1516.5 555.6,1532.0" fill="none" stroke="#0a0a0a" stroke-width="15" stroke-opacity="0.9"/><path d="M678.2,974.0C675.8,989.5 668.1,1036.0 664.1,1067.0C660.2,1098.0 658.3,1129.0 654.6,1160.0C650.8,1191.0 646.1,1222.0 641.6,1253.0C637.1,1284.0 631.0,1315.0 627.4,1346.0C623.9,1377.0 623.9,1408.0 620.2,1439.0C616.4,1470.0 607.5,1516.5 604.9,1532.0" fill="none" stroke="#8e8e8e" stroke-width="9" stroke-opacity="0.75"/><path d="M691.2,974.0C688.8,989.5 681.1,1036.0 677.1,1067.0C673.2,1098.0 671.3,1129.0 667.6,1160.0C663.8,1191.0 659.1,1222.0 654.6,1253.0C650.1,1284.0 644.0,1315.0 640.4,1346.0C636.9,1377.0 636.9,1408.0 633.2,1439.0C629.4,1470.0 620.5,1516.5 617.9,1532.0" fill="none" stroke="#0a0a0a" stroke-width="15" stroke-opacity="0.9"/><path d="M737.3,974.0C735.0,989.5 727.3,1036.0 723.5,1067.0C719.7,1098.0 717.9,1129.0 714.6,1160.0C711.4,1191.0 707.8,1222.0 704.0,1253.0C700.1,1284.0 695.8,1315.0 691.3,1346.0C686.8,1377.0 681.4,1408.0 677.0,1439.0C672.6,1470.0 667.0,1516.5 665.0,1532.0" fill="none" stroke="#8e8e8e" stroke-width="9" stroke-opacity="0.75"/><path d="M750.3,974.0C748.0,989.5 740.3,1036.0 736.5,1067.0C732.7,1098.0 730.9,1129.0 727.6,1160.0C724.4,1191.0 720.8,1222.0 717.0,1253.0C713.1,1284.0 708.8,1315.0 704.3,1346.0C699.8,1377.0 694.4,1408.0 690.0,1439.0C685.6,1470.0 680.0,1516.5 678.0,1532.0" fill="none" stroke="#0a0a0a" stroke-width="15" stroke-opacity="0.9"/><path d="M797.0,974.0C795.3,989.5 790.6,1036.0 786.8,1067.0C783.0,1098.0 778.5,1129.0 774.2,1160.0C769.9,1191.0 764.8,1222.0 760.8,1253.0C756.9,1284.0 754.5,1315.0 750.5,1346.0C746.6,1377.0 741.2,1408.0 737.2,1439.0C733.2,1470.0 728.1,1516.5 726.3,1532.0" fill="none" stroke="#8e8e8e" stroke-width="9" stroke-opacity="0.75"/><path d="M810.0,974.0C808.3,989.5 803.6,1036.0 799.8,1067.0C796.0,1098.0 791.5,1129.0 787.2,1160.0C782.9,1191.0 777.8,1222.0 773.8,1253.0C769.9,1284.0 767.5,1315.0 763.5,1346.0C759.6,1377.0 754.2,1408.0 750.2,1439.0C746.2,1470.0 741.1,1516.5 739.3,1532.0" fill="none" stroke="#0a0a0a" stroke-width="15" stroke-opacity="0.9"/><path d="M848.5,974.0C846.1,989.5 838.1,1036.0 834.4,1067.0C830.7,1098.0 830.5,1129.0 826.2,1160.0C822.0,1191.0 813.4,1222.0 809.0,1253.0C804.6,1284.0 803.5,1315.0 799.8,1346.0C796.2,1377.0 791.1,1408.0 787.0,1439.0C782.8,1470.0 776.9,1516.5 774.9,1532.0" fill="none" stroke="#8e8e8e" stroke-width="9" stroke-opacity="0.75"/><path d="M861.5,974.0C859.1,989.5 851.1,1036.0 847.4,1067.0C843.7,1098.0 843.5,1129.0 839.2,1160.0C835.0,1191.0 826.4,1222.0 822.0,1253.0C817.6,1284.0 816.5,1315.0 812.8,1346.0C809.2,1377.0 804.1,1408.0 800.0,1439.0C795.8,1470.0 789.9,1516.5 787.9,1532.0" fill="none" stroke="#0a0a0a" stroke-width="15" stroke-opacity="0.9"/><path d="M894.1,974.0C892.5,989.5 889.0,1036.0 884.6,1067.0C880.2,1098.0 872.2,1129.0 867.9,1160.0C863.6,1191.0 862.1,1222.0 859.0,1253.0C855.9,1284.0 853.7,1315.0 849.3,1346.0C844.8,1377.0 837.0,1408.0 832.4,1439.0C827.8,1470.0 823.6,1516.5 821.9,1532.0" fill="none" stroke="#8e8e8e" stroke-width="9" stroke-opacity="0.75"/><path d="M907.1,974.0C905.5,989.5 902.0,1036.0 897.6,1067.0C893.2,1098.0 885.2,1129.0 880.9,1160.0C876.6,1191.0 875.1,1222.0 872.0,1253.0C868.9,1284.0 866.7,1315.0 862.3,1346.0C857.8,1377.0 850.0,1408.0 845.4,1439.0C840.8,1470.0 836.6,1516.5 834.9,1532.0" fill="none" stroke="#0a0a0a" stroke-width="15" stroke-opacity="0.9"/><path d="M962.2,974.0C960.2,989.5 953.9,1036.0 950.0,1067.0C946.0,1098.0 942.4,1129.0 938.7,1160.0C934.9,1191.0 932.1,1222.0 927.6,1253.0C923.1,1284.0 916.2,1315.0 911.7,1346.0C907.2,1377.0 904.2,1408.0 900.4,1439.0C896.6,1470.0 891.0,1516.5 889.1,1532.0" fill="none" stroke="#8e8e8e" stroke-width="9" stroke-opacity="0.75"/><path d="M975.2,974.0C973.2,989.5 966.9,1036.0 963.0,1067.0C959.0,1098.0 955.4,1129.0 951.7,1160.0C947.9,1191.0 945.1,1222.0 940.6,1253.0C936.1,1284.0 929.2,1315.0 924.7,1346.0C920.2,1377.0 917.2,1408.0 913.4,1439.0C909.6,1470.0 904.0,1516.5 902.1,1532.0" fill="none" stroke="#0a0a0a" stroke-width="15" stroke-opacity="0.9"/><path d="M1022.3,974.0C1020.6,989.5 1015.5,1036.0 1011.8,1067.0C1008.2,1098.0 1003.9,1129.0 1000.2,1160.0C996.4,1191.0 993.4,1222.0 989.3,1253.0C985.2,1284.0 979.6,1315.0 975.6,1346.0C971.5,1377.0 969.5,1408.0 964.9,1439.0C960.4,1470.0 951.0,1516.5 948.2,1532.0 L1072.0,1532.0 L1113.0,974.0Z" fill="#2a2a2a"/><path d="M1113.0,974.0C1112.2,989.5 1111.0,1036.0 1108.6,1067.0C1106.2,1098.0 1101.7,1129.0 1098.6,1160.0C1095.4,1191.0 1092.7,1222.0 1089.7,1253.0C1086.6,1284.0 1082.0,1315.0 1080.4,1346.0C1078.9,1377.0 1081.8,1408.0 1080.4,1439.0C1079.0,1470.0 1073.4,1516.5 1072.0,1532.0" fill="none" stroke="#0c0c0c" stroke-width="12" stroke-opacity="0.85"/></g>
<g filter="url(#fi2_1_5)"><path d="M431.9,974.0C429.6,989.5 421.7,1036.0 418.0,1067.0C414.2,1098.0 413.4,1129.0 409.3,1160.0C405.1,1191.0 397.0,1222.0 393.0,1253.0C389.1,1284.0 389.4,1315.0 385.6,1346.0C381.7,1377.0 374.4,1408.0 370.1,1439.0C365.8,1470.0 361.5,1516.5 359.7,1532.0" fill="none" stroke="#b0b0b0" stroke-width="2.5" stroke-opacity="0.45"/><path d="M492.0,974.0C489.9,989.5 483.5,1036.0 479.4,1067.0C475.4,1098.0 472.1,1129.0 467.8,1160.0C463.5,1191.0 458.3,1222.0 453.6,1253.0C448.9,1284.0 444.0,1315.0 439.7,1346.0C435.3,1377.0 431.4,1408.0 427.8,1439.0C424.1,1470.0 419.4,1516.5 417.8,1532.0" fill="none" stroke="#b0b0b0" stroke-width="2.5" stroke-opacity="0.45"/><path d="M539.2,974.0C537.1,989.5 530.6,1036.0 526.5,1067.0C522.4,1098.0 518.5,1129.0 514.9,1160.0C511.3,1191.0 509.5,1222.0 505.1,1253.0C500.7,1284.0 493.1,1315.0 488.4,1346.0C483.7,1377.0 480.5,1408.0 476.9,1439.0C473.3,1470.0 468.5,1516.5 466.8,1532.0" fill="none" stroke="#b0b0b0" stroke-width="2.5" stroke-opacity="0.45"/><path d="M618.0,974.0C615.7,989.5 607.9,1036.0 603.9,1067.0C599.9,1098.0 597.9,1129.0 593.9,1160.0C590.0,1191.0 584.4,1222.0 580.4,1253.0C576.3,1284.0 573.7,1315.0 569.8,1346.0C565.9,1377.0 560.8,1408.0 556.9,1439.0C553.0,1470.0 548.3,1516.5 546.6,1532.0" fill="none" stroke="#b0b0b0" stroke-width="2.5" stroke-opacity="0.45"/><path d="M682.2,974.0C679.8,989.5 672.1,1036.0 668.1,1067.0C664.2,1098.0 662.3,1129.0 658.6,1160.0C654.8,1191.0 650.1,1222.0 645.6,1253.0C641.1,1284.0 635.0,1315.0 631.4,1346.0C627.9,1377.0 627.9,1408.0 624.2,1439.0C620.4,1470.0 611.5,1516.5 608.9,1532.0" fill="none" stroke="#b0b0b0" stroke-width="2.5" stroke-opacity="0.45"/><path d="M741.3,974.0C739.0,989.5 731.3,1036.0 727.5,1067.0C723.7,1098.0 721.9,1129.0 718.6,1160.0C715.4,1191.0 711.8,1222.0 708.0,1253.0C704.1,1284.0 699.8,1315.0 695.3,1346.0C690.8,1377.0 685.4,1408.0 681.0,1439.0C676.6,1470.0 671.0,1516.5 669.0,1532.0" fill="none" stroke="#b0b0b0" stroke-width="2.5" stroke-opacity="0.45"/><path d="M801.0,974.0C799.3,989.5 794.6,1036.0 790.8,1067.0C787.0,1098.0 782.5,1129.0 778.2,1160.0C773.9,1191.0 768.8,1222.0 764.8,1253.0C760.9,1284.0 758.5,1315.0 754.5,1346.0C750.6,1377.0 745.2,1408.0 741.2,1439.0C737.2,1470.0 732.1,1516.5 730.3,1532.0" fill="none" stroke="#b0b0b0" stroke-width="2.5" stroke-opacity="0.45"/><path d="M852.5,974.0C850.1,989.5 842.1,1036.0 838.4,1067.0C834.7,1098.0 834.5,1129.0 830.2,1160.0C826.0,1191.0 817.4,1222.0 813.0,1253.0C808.6,1284.0 807.5,1315.0 803.8,1346.0C800.2,1377.0 795.1,1408.0 791.0,1439.0C786.8,1470.0 780.9,1516.5 778.9,1532.0" fill="none" stroke="#b0b0b0" stroke-width="2.5" stroke-opacity="0.45"/><path d="M898.1,974.0C896.5,989.5 893.0,1036.0 888.6,1067.0C884.2,1098.0 876.2,1129.0 871.9,1160.0C867.6,1191.0 866.1,1222.0 863.0,1253.0C859.9,1284.0 857.7,1315.0 853.3,1346.0C848.8,1377.0 841.0,1408.0 836.4,1439.0C831.8,1470.0 827.6,1516.5 825.9,1532.0" fill="none" stroke="#b0b0b0" stroke-width="2.5" stroke-opacity="0.45"/><path d="M966.2,974.0C964.2,989.5 957.9,1036.0 954.0,1067.0C950.0,1098.0 946.4,1129.0 942.7,1160.0C938.9,1191.0 936.1,1222.0 931.6,1253.0C927.1,1284.0 920.2,1315.0 915.7,1346.0C911.2,1377.0 908.2,1408.0 904.4,1439.0C900.6,1470.0 895.0,1516.5 893.1,1532.0" fill="none" stroke="#b0b0b0" stroke-width="2.5" stroke-opacity="0.45"/><path d="M1020.3,974.0C1018.6,989.5 1013.5,1036.0 1009.8,1067.0C1006.2,1098.0 1001.9,1129.0 998.2,1160.0C994.4,1191.0 991.4,1222.0 987.3,1253.0C983.2,1284.0 977.6,1315.0 973.6,1346.0C969.5,1377.0 967.5,1408.0 962.9,1439.0C958.4,1470.0 949.0,1516.5 946.2,1532.0" fill="none" stroke="#c4c4c4" stroke-width="4" stroke-opacity="0.6"/></g>
<circle cx="434.0" cy="1001.1" r="1.8" fill="#a8a8a8" fill-opacity="0.51"/><circle cx="437.1" cy="977.5" r="1.7" fill="#a8a8a8" fill-opacity="0.44"/><circle cx="381.2" cy="1387.9" r="1.2" fill="#a8a8a8" fill-opacity="0.33"/><circle cx="413.9" cy="1103.6" r="1.3" fill="#a8a8a8" fill-opacity="0.52"/><circle cx="388.7" cy="1361.9" r="1.7" fill="#a8a8a8" fill-opacity="0.38"/><circle cx="393.1" cy="1283.0" r="1.8" fill="#a8a8a8" fill-opacity="0.46"/><circle cx="417.0" cy="1122.0" r="2.0" fill="#a8a8a8" fill-opacity="0.37"/><circle cx="366.3" cy="1465.1" r="1.3" fill="#a8a8a8" fill-opacity="0.37"/><circle cx="384.9" cy="1389.1" r="1.7" fill="#a8a8a8" fill-opacity="0.40"/><circle cx="368.8" cy="1465.1" r="1.2" fill="#a8a8a8" fill-opacity="0.57"/><circle cx="447.2" cy="1325.9" r="1.7" fill="#a8a8a8" fill-opacity="0.59"/><circle cx="461.9" cy="1236.0" r="1.7" fill="#a8a8a8" fill-opacity="0.56"/><circle cx="463.8" cy="1218.0" r="1.6" fill="#a8a8a8" fill-opacity="0.39"/><circle cx="480.2" cy="1092.3" r="1.1" fill="#a8a8a8" fill-opacity="0.57"/><circle cx="480.3" cy="1054.7" r="1.1" fill="#a8a8a8" fill-opacity="0.58"/><circle cx="467.0" cy="1166.4" r="1.0" fill="#a8a8a8" fill-opacity="0.31"/><circle cx="441.9" cy="1360.5" r="1.7" fill="#a8a8a8" fill-opacity="0.52"/><circle cx="490.7" cy="1010.7" r="1.4" fill="#a8a8a8" fill-opacity="0.55"/><circle cx="434.9" cy="1431.3" r="1.1" fill="#a8a8a8" fill-opacity="0.56"/><circle cx="429.4" cy="1484.2" r="1.1" fill="#a8a8a8" fill-opacity="0.36"/><circle cx="530.0" cy="1036.5" r="1.8" fill="#a8a8a8" fill-opacity="0.54"/><circle cx="497.3" cy="1327.9" r="1.6" fill="#a8a8a8" fill-opacity="0.39"/><circle cx="531.4" cy="1029.7" r="1.8" fill="#a8a8a8" fill-opacity="0.36"/><circle cx="518.3" cy="1152.1" r="1.0" fill="#a8a8a8" fill-opacity="0.38"/><circle cx="523.2" cy="1131.7" r="1.4" fill="#a8a8a8" fill-opacity="0.40"/><circle cx="472.0" cy="1511.9" r="1.9" fill="#a8a8a8" fill-opacity="0.49"/><circle cx="539.2" cy="991.3" r="1.4" fill="#a8a8a8" fill-opacity="0.53"/><circle cx="518.7" cy="1167.5" r="1.5" fill="#a8a8a8" fill-opacity="0.36"/><circle cx="474.9" cy="1455.1" r="1.8" fill="#a8a8a8" fill-opacity="0.35"/><circle cx="539.7" cy="974.7" r="1.8" fill="#a8a8a8" fill-opacity="0.59"/><circle cx="620.6" cy="976.4" r="1.5" fill="#a8a8a8" fill-opacity="0.54"/><circle cx="605.8" cy="1077.0" r="1.3" fill="#a8a8a8" fill-opacity="0.55"/><circle cx="604.9" cy="1119.4" r="1.3" fill="#a8a8a8" fill-opacity="0.36"/><circle cx="570.2" cy="1364.3" r="1.1" fill="#a8a8a8" fill-opacity="0.49"/><circle cx="616.5" cy="1019.1" r="1.7" fill="#a8a8a8" fill-opacity="0.54"/><circle cx="574.1" cy="1324.4" r="1.4" fill="#a8a8a8" fill-opacity="0.42"/><circle cx="553.1" cy="1470.8" r="1.9" fill="#a8a8a8" fill-opacity="0.31"/><circle cx="602.7" cy="1089.0" r="1.9" fill="#a8a8a8" fill-opacity="0.45"/><circle cx="596.3" cy="1185.7" r="1.2" fill="#a8a8a8" fill-opacity="0.44"/><circle cx="583.4" cy="1270.6" r="1.8" fill="#a8a8a8" fill-opacity="0.49"/><circle cx="659.0" cy="1168.5" r="1.2" fill="#a8a8a8" fill-opacity="0.55"/><circle cx="636.8" cy="1343.5" r="1.2" fill="#a8a8a8" fill-opacity="0.43"/><circle cx="630.4" cy="1405.6" r="1.1" fill="#a8a8a8" fill-opacity="0.44"/><circle cx="620.3" cy="1467.9" r="1.2" fill="#a8a8a8" fill-opacity="0.39"/><circle cx="635.6" cy="1366.4" r="1.2" fill="#a8a8a8" fill-opacity="0.35"/><circle cx="665.1" cy="1112.2" r="1.5" fill="#a8a8a8" fill-opacity="0.35"/><circle cx="659.4" cy="1157.1" r="2.0" fill="#a8a8a8" fill-opacity="0.52"/><circle cx="680.3" cy="1030.8" r="1.1" fill="#a8a8a8" fill-opacity="0.42"/><circle cx="615.8" cy="1523.0" r="1.7" fill="#a8a8a8" fill-opacity="0.43"/><circle cx="670.5" cy="1083.5" r="1.1" fill="#a8a8a8" fill-opacity="0.36"/><circle cx="714.4" cy="1190.7" r="1.4" fill="#a8a8a8" fill-opacity="0.54"/><circle cx="696.0" cy="1360.9" r="1.6" fill="#a8a8a8" fill-opacity="0.44"/><circle cx="733.4" cy="1053.1" r="1.4" fill="#a8a8a8" fill-opacity="0.52"/><circle cx="678.0" cy="1480.7" r="1.6" fill="#a8a8a8" fill-opacity="0.52"/><circle cx="713.8" cy="1209.0" r="1.7" fill="#a8a8a8" fill-opacity="0.56"/><circle cx="690.7" cy="1405.9" r="1.9" fill="#a8a8a8" fill-opacity="0.50"/><circle cx="699.9" cy="1332.0" r="1.3" fill="#a8a8a8" fill-opacity="0.49"/><circle cx="735.5" cy="1028.6" r="1.8" fill="#a8a8a8" fill-opacity="0.51"/><circle cx="699.1" cy="1325.3" r="1.4" fill="#a8a8a8" fill-opacity="0.44"/><circle cx="701.0" cy="1320.8" r="1.7" fill="#a8a8a8" fill-opacity="0.58"/><circle cx="793.8" cy="1076.1" r="1.8" fill="#a8a8a8" fill-opacity="0.42"/><circle cx="772.4" cy="1247.3" r="1.0" fill="#a8a8a8" fill-opacity="0.46"/><circle cx="796.4" cy="1063.8" r="1.9" fill="#a8a8a8" fill-opacity="0.46"/><circle cx="798.4" cy="1030.4" r="1.5" fill="#a8a8a8" fill-opacity="0.52"/><circle cx="768.2" cy="1259.8" r="1.8" fill="#a8a8a8" fill-opacity="0.46"/><circle cx="778.6" cy="1203.0" r="1.2" fill="#a8a8a8" fill-opacity="0.51"/><circle cx="778.6" cy="1193.0" r="1.1" fill="#a8a8a8" fill-opacity="0.60"/><circle cx="775.9" cy="1172.4" r="1.3" fill="#a8a8a8" fill-opacity="0.42"/><circle cx="802.6" cy="981.4" r="1.4" fill="#a8a8a8" fill-opacity="0.51"/><circle cx="777.8" cy="1170.5" r="1.2" fill="#a8a8a8" fill-opacity="0.52"/><circle cx="786.5" cy="1498.5" r="1.2" fill="#a8a8a8" fill-opacity="0.54"/><circle cx="824.9" cy="1192.7" r="1.1" fill="#a8a8a8" fill-opacity="0.53"/><circle cx="796.9" cy="1425.7" r="1.5" fill="#a8a8a8" fill-opacity="0.47"/><circle cx="842.2" cy="1100.1" r="1.4" fill="#a8a8a8" fill-opacity="0.49"/><circle cx="797.6" cy="1430.9" r="1.5" fill="#a8a8a8" fill-opacity="0.39"/><circle cx="810.3" cy="1279.9" r="1.8" fill="#a8a8a8" fill-opacity="0.41"/><circle cx="790.9" cy="1448.7" r="1.4" fill="#a8a8a8" fill-opacity="0.38"/><circle cx="821.1" cy="1211.8" r="1.0" fill="#a8a8a8" fill-opacity="0.52"/><circle cx="833.8" cy="1130.9" r="1.3" fill="#a8a8a8" fill-opacity="0.44"/><circle cx="824.5" cy="1213.1" r="1.7" fill="#a8a8a8" fill-opacity="0.41"/><circle cx="836.2" cy="1492.2" r="1.1" fill="#a8a8a8" fill-opacity="0.55"/><circle cx="837.1" cy="1479.4" r="1.1" fill="#a8a8a8" fill-opacity="0.55"/><circle cx="854.4" cy="1327.3" r="1.0" fill="#a8a8a8" fill-opacity="0.59"/><circle cx="854.9" cy="1340.0" r="1.1" fill="#a8a8a8" fill-opacity="0.34"/><circle cx="887.1" cy="1104.4" r="1.3" fill="#a8a8a8" fill-opacity="0.35"/><circle cx="837.3" cy="1478.5" r="1.2" fill="#a8a8a8" fill-opacity="0.57"/><circle cx="861.9" cy="1313.5" r="1.7" fill="#a8a8a8" fill-opacity="0.57"/><circle cx="846.7" cy="1413.7" r="1.2" fill="#a8a8a8" fill-opacity="0.51"/><circle cx="866.2" cy="1270.2" r="1.4" fill="#a8a8a8" fill-opacity="0.56"/><circle cx="860.9" cy="1283.7" r="1.2" fill="#a8a8a8" fill-opacity="0.34"/><circle cx="931.5" cy="1249.1" r="1.5" fill="#a8a8a8" fill-opacity="0.34"/><circle cx="935.2" cy="1248.2" r="1.5" fill="#a8a8a8" fill-opacity="0.56"/><circle cx="971.5" cy="977.7" r="1.5" fill="#a8a8a8" fill-opacity="0.47"/><circle cx="921.5" cy="1345.2" r="1.4" fill="#a8a8a8" fill-opacity="0.43"/><circle cx="895.3" cy="1510.0" r="1.6" fill="#a8a8a8" fill-opacity="0.49"/><circle cx="968.0" cy="989.9" r="1.7" fill="#a8a8a8" fill-opacity="0.58"/><circle cx="949.7" cy="1158.4" r="1.5" fill="#a8a8a8" fill-opacity="0.45"/><circle cx="899.3" cy="1474.8" r="1.7" fill="#a8a8a8" fill-opacity="0.49"/><circle cx="948.2" cy="1162.9" r="1.4" fill="#a8a8a8" fill-opacity="0.44"/><circle cx="934.3" cy="1267.2" r="1.2" fill="#a8a8a8" fill-opacity="0.43"/><circle cx="722.1" cy="1281.0" r="1.8" fill="#b0b0b0" fill-opacity="0.39"/><circle cx="1003.4" cy="1203.1" r="1.5" fill="#b0b0b0" fill-opacity="0.38"/><circle cx="780.5" cy="1499.0" r="1.7" fill="#b0b0b0" fill-opacity="0.54"/><circle cx="658.6" cy="1158.3" r="1.3" fill="#b0b0b0" fill-opacity="0.48"/><circle cx="869.6" cy="1400.2" r="1.0" fill="#b0b0b0" fill-opacity="0.52"/><circle cx="1043.6" cy="1276.5" r="1.0" fill="#b0b0b0" fill-opacity="0.39"/><circle cx="433.3" cy="1092.4" r="1.9" fill="#b0b0b0" fill-opacity="0.48"/><circle cx="885.7" cy="1402.7" r="1.9" fill="#b0b0b0" fill-opacity="0.48"/><circle cx="857.0" cy="1318.7" r="1.7" fill="#b0b0b0" fill-opacity="0.48"/><circle cx="901.6" cy="1104.1" r="1.7" fill="#b0b0b0" fill-opacity="0.44"/><circle cx="958.3" cy="1046.5" r="1.2" fill="#b0b0b0" fill-opacity="0.31"/><circle cx="966.5" cy="1467.5" r="1.7" fill="#b0b0b0" fill-opacity="0.41"/><circle cx="999.9" cy="1401.4" r="1.6" fill="#b0b0b0" fill-opacity="0.38"/><circle cx="638.6" cy="1212.5" r="1.3" fill="#b0b0b0" fill-opacity="0.43"/><circle cx="874.4" cy="1477.7" r="1.1" fill="#b0b0b0" fill-opacity="0.47"/><circle cx="456.3" cy="1055.6" r="1.8" fill="#b0b0b0" fill-opacity="0.47"/><circle cx="1066.5" cy="1225.3" r="1.0" fill="#b0b0b0" fill-opacity="0.42"/><circle cx="839.8" cy="1479.7" r="2.0" fill="#b0b0b0" fill-opacity="0.44"/><circle cx="715.2" cy="1046.9" r="1.6" fill="#b0b0b0" fill-opacity="0.36"/><circle cx="534.3" cy="1002.0" r="1.0" fill="#b0b0b0" fill-opacity="0.51"/><circle cx="513.4" cy="1494.6" r="1.1" fill="#b0b0b0" fill-opacity="0.56"/><circle cx="518.5" cy="1003.2" r="1.7" fill="#b0b0b0" fill-opacity="0.37"/><circle cx="938.1" cy="1091.1" r="1.1" fill="#b0b0b0" fill-opacity="0.53"/><circle cx="924.2" cy="1437.1" r="1.7" fill="#b0b0b0" fill-opacity="0.33"/><circle cx="865.3" cy="1361.4" r="1.5" fill="#b0b0b0" fill-opacity="0.58"/><circle cx="605.3" cy="1493.5" r="1.7" fill="#b0b0b0" fill-opacity="0.30"/><circle cx="439.2" cy="1331.1" r="1.8" fill="#b0b0b0" fill-opacity="0.32"/><circle cx="644.9" cy="1371.9" r="1.2" fill="#b0b0b0" fill-opacity="0.56"/><circle cx="766.5" cy="1025.0" r="1.4" fill="#b0b0b0" fill-opacity="0.47"/><circle cx="733.5" cy="1344.6" r="1.1" fill="#b0b0b0" fill-opacity="0.54"/>
<g transform="translate(776.0,1253.0) skewX(-7.5) translate(-776.0,-1253.0)">
<rect x="309" y="994" width="934" height="518" filter="url(#streakV)" opacity="0.22" style="mix-blend-mode:overlay"/>
</g>
<rect x="429" y="994" width="694" height="518" filter="url(#streakH)" opacity="0.08" style="mix-blend-mode:overlay"/>
<rect x="429" y="994" width="694" height="518" filter="url(#blob)" opacity="0.18" style="mix-blend-mode:overlay"/>
<rect x="429" y="994" width="694" height="518" filter="url(#grain)" opacity="0.06" style="mix-blend-mode:overlay"/>

</g>
<text x="957.5" y="1472" font-size="48.5" style="fill:#fff">500nm</text>
<rect x="985.5" y="1478.5" width="88" height="14.5" fill="#fff"/>
<g clip-path="url(#ci3)">
<rect x="1405" y="955" width="679" height="508" fill="#505050"/>
<g filter="url(#fi3_10)"><path d="M1547.2,935.0C1544.3,953.3 1536.2,1008.1 1529.8,1044.6C1523.4,1081.1 1516.3,1117.7 1508.7,1154.2C1501.1,1190.7 1491.8,1227.3 1484.1,1263.8C1476.5,1300.3 1469.1,1336.9 1462.7,1373.4C1456.3,1409.9 1448.6,1464.7 1445.7,1483.0" fill="none" stroke="#6a6a6a" stroke-width="30" stroke-opacity="0.8"/><path d="M1517.2,935.0C1514.3,953.3 1506.2,1008.1 1499.8,1044.6C1493.4,1081.1 1486.3,1117.7 1478.7,1154.2C1471.1,1190.7 1461.8,1227.3 1454.1,1263.8C1446.5,1300.3 1439.1,1336.9 1432.7,1373.4C1426.3,1409.9 1418.6,1464.7 1415.7,1483.0" fill="none" stroke="#3e3e3e" stroke-width="24" stroke-opacity="0.7"/><path d="M1668.7,935.0C1665.2,953.3 1655.9,1008.1 1647.9,1044.6C1639.9,1081.1 1630.0,1117.7 1620.8,1154.2C1611.6,1190.7 1601.9,1227.3 1592.7,1263.8C1583.4,1300.3 1571.9,1336.9 1565.3,1373.4C1558.7,1409.9 1554.9,1464.7 1552.8,1483.0" fill="none" stroke="#6a6a6a" stroke-width="30" stroke-opacity="0.8"/><path d="M1638.7,935.0C1635.2,953.3 1625.9,1008.1 1617.9,1044.6C1609.9,1081.1 1600.0,1117.7 1590.8,1154.2C1581.6,1190.7 1571.9,1227.3 1562.7,1263.8C1553.4,1300.3 1541.9,1336.9 1535.3,1373.4C1528.7,1409.9 1524.9,1464.7 1522.8,1483.0" fill="none" stroke="#3e3e3e" stroke-width="24" stroke-opacity="0.7"/><path d="M1745.2,935.0C1743.0,953.3 1738.6,1008.1 1731.9,1044.6C1725.2,1081.1 1711.6,1117.7 1705.0,1154.2C1698.3,1190.7 1696.0,1227.3 1691.9,1263.8C1687.8,1300.3 1686.6,1336.9 1680.6,1373.4C1674.6,1409.9 1660.1,1464.7 1656.0,1483.0" fill="none" stroke="#6a6a6a" stroke-width="30" stroke-opacity="0.8"/><path d="M1715.2,935.0C1713.0,953.3 1708.6,1008.1 1701.9,1044.6C1695.2,1081.1 1681.6,1117.7 1675.0,1154.2C1668.3,1190.7 1666.0,1227.3 1661.9,1263.8C1657.8,1300.3 1656.6,1336.9 1650.6,1373.4C1644.6,1409.9 1630.1,1464.7 1626.0,1483.0" fill="none" stroke="#3e3e3e" stroke-width="24" stroke-opacity="0.7"/><path d="M1822.6,935.0C1818.8,953.3 1806.3,1008.1 1799.8,1044.6C1793.2,1081.1 1787.6,1117.7 1783.1,1154.2C1778.6,1190.7 1779.0,1227.3 1772.6,1263.8C1766.2,1300.3 1751.8,1336.9 1744.6,1373.4C1737.3,1409.9 1731.7,1464.7 1729.1,1483.0" fill="none" stroke="#6a6a6a" stroke-width="30" stroke-opacity="0.8"/><path d="M1792.6,935.0C1788.8,953.3 1776.3,1008.1 1769.8,1044.6C1763.2,1081.1 1757.6,1117.7 1753.1,1154.2C1748.6,1190.7 1749.0,1227.3 1742.6,1263.8C1736.2,1300.3 1721.8,1336.9 1714.6,1373.4C1707.3,1409.9 1701.7,1464.7 1699.1,1483.0" fill="none" stroke="#3e3e3e" stroke-width="24" stroke-opacity="0.7"/><path d="M1903.6,935.0C1901.6,953.3 1896.8,1008.1 1891.3,1044.6C1885.9,1081.1 1879.0,1117.7 1870.9,1154.2C1862.8,1190.7 1851.4,1227.3 1842.7,1263.8C1834.0,1300.3 1824.7,1336.9 1818.8,1373.4C1813.0,1409.9 1809.5,1464.7 1807.6,1483.0" fill="none" stroke="#6a6a6a" stroke-width="30" stroke-opacity="0.8"/><path d="M1873.6,935.0C1871.6,953.3 1866.8,1008.1 1861.3,1044.6C1855.9,1081.1 1849.0,1117.7 1840.9,1154.2C1832.8,1190.7 1821.4,1227.3 1812.7,1263.8C1804.0,1300.3 1794.7,1336.9 1788.8,1373.4C1783.0,1409.9 1779.5,1464.7 1777.6,1483.0" fill="none" stroke="#3e3e3e" stroke-width="24" stroke-opacity="0.7"/><path d="M1972.5,935.0C1969.8,953.3 1961.1,1008.1 1956.0,1044.6C1950.8,1081.1 1946.8,1117.7 1941.5,1154.2C1936.2,1190.7 1932.7,1227.3 1924.2,1263.8C1915.7,1300.3 1897.4,1336.9 1890.4,1373.4C1883.3,1409.9 1883.4,1464.7 1882.0,1483.0" fill="none" stroke="#6a6a6a" stroke-width="30" stroke-opacity="0.8"/><path d="M1942.5,935.0C1939.8,953.3 1931.1,1008.1 1926.0,1044.6C1920.8,1081.1 1916.8,1117.7 1911.5,1154.2C1906.2,1190.7 1902.7,1227.3 1894.2,1263.8C1885.7,1300.3 1867.4,1336.9 1860.4,1373.4C1853.3,1409.9 1853.4,1464.7 1852.0,1483.0" fill="none" stroke="#3e3e3e" stroke-width="24" stroke-opacity="0.7"/><path d="M2065.9,935.0C2063.8,953.3 2059.1,1008.1 2053.2,1044.6C2047.3,1081.1 2038.1,1117.7 2030.5,1154.2C2022.9,1190.7 2012.7,1227.3 2007.7,1263.8C2002.8,1300.3 2005.5,1336.9 2000.7,1373.4C1995.9,1409.9 1982.5,1464.7 1978.8,1483.0" fill="none" stroke="#6a6a6a" stroke-width="30" stroke-opacity="0.8"/><path d="M2035.9,935.0C2033.8,953.3 2029.1,1008.1 2023.2,1044.6C2017.3,1081.1 2008.1,1117.7 2000.5,1154.2C1992.9,1190.7 1982.7,1227.3 1977.7,1263.8C1972.8,1300.3 1975.5,1336.9 1970.7,1373.4C1965.9,1409.9 1952.5,1464.7 1948.8,1483.0" fill="none" stroke="#3e3e3e" stroke-width="24" stroke-opacity="0.7"/><path d="M2139.1,935.0C2138.1,953.3 2137.7,1008.1 2132.8,1044.6C2128.0,1081.1 2116.7,1117.7 2110.0,1154.2C2103.4,1190.7 2096.3,1227.3 2092.7,1263.8C2089.2,1300.3 2091.2,1336.9 2088.6,1373.4C2085.9,1409.9 2078.7,1464.7 2076.8,1483.0" fill="none" stroke="#6a6a6a" stroke-width="30" stroke-opacity="0.8"/><path d="M2109.1,935.0C2108.1,953.3 2107.7,1008.1 2102.8,1044.6C2098.0,1081.1 2086.7,1117.7 2080.0,1154.2C2073.4,1190.7 2066.3,1227.3 2062.7,1263.8C2059.2,1300.3 2061.2,1336.9 2058.6,1373.4C2055.9,1409.9 2048.7,1464.7 2046.8,1483.0" fill="none" stroke="#3e3e3e" stroke-width="24" stroke-opacity="0.7"/><path d="M1448.4,935.0C1448.5,953.3 1449.3,1008.1 1449.0,1044.6C1448.8,1081.1 1450.0,1117.7 1446.9,1154.2C1443.9,1190.7 1433.3,1227.3 1430.7,1263.8C1428.2,1300.3 1432.5,1336.9 1431.7,1373.4C1430.9,1409.9 1426.9,1464.7 1425.9,1483.0" fill="none" stroke="#454545" stroke-width="70" stroke-opacity="0.7"/></g>
<g filter="url(#fi3_3_5)"><path d="M1644.7,935.0C1641.2,953.3 1631.9,1008.1 1623.9,1044.6C1615.9,1081.1 1606.0,1117.7 1596.8,1154.2C1587.6,1190.7 1577.9,1227.3 1568.7,1263.8C1559.4,1300.3 1547.9,1336.9 1541.3,1373.4C1534.7,1409.9 1530.9,1464.7 1528.8,1483.0" fill="none" stroke="#262626" stroke-width="8" stroke-opacity="0.8"/><path d="M1721.2,935.0C1719.0,953.3 1714.6,1008.1 1707.9,1044.6C1701.2,1081.1 1687.6,1117.7 1681.0,1154.2C1674.3,1190.7 1672.0,1227.3 1667.9,1263.8C1663.8,1300.3 1662.6,1336.9 1656.6,1373.4C1650.6,1409.9 1636.1,1464.7 1632.0,1483.0" fill="none" stroke="#262626" stroke-width="8" stroke-opacity="0.8"/><path d="M1798.6,935.0C1794.8,953.3 1782.3,1008.1 1775.8,1044.6C1769.2,1081.1 1763.6,1117.7 1759.1,1154.2C1754.6,1190.7 1755.0,1227.3 1748.6,1263.8C1742.2,1300.3 1727.8,1336.9 1720.6,1373.4C1713.3,1409.9 1707.7,1464.7 1705.1,1483.0" fill="none" stroke="#262626" stroke-width="8" stroke-opacity="0.8"/><path d="M1879.6,935.0C1877.6,953.3 1872.8,1008.1 1867.3,1044.6C1861.9,1081.1 1855.0,1117.7 1846.9,1154.2C1838.8,1190.7 1827.4,1227.3 1818.7,1263.8C1810.0,1300.3 1800.7,1336.9 1794.8,1373.4C1789.0,1409.9 1785.5,1464.7 1783.6,1483.0" fill="none" stroke="#262626" stroke-width="8" stroke-opacity="0.8"/><path d="M1948.5,935.0C1945.8,953.3 1937.1,1008.1 1932.0,1044.6C1926.8,1081.1 1922.8,1117.7 1917.5,1154.2C1912.2,1190.7 1908.7,1227.3 1900.2,1263.8C1891.7,1300.3 1873.4,1336.9 1866.4,1373.4C1859.3,1409.9 1859.4,1464.7 1858.0,1483.0" fill="none" stroke="#262626" stroke-width="8" stroke-opacity="0.8"/><path d="M2041.9,935.0C2039.8,953.3 2035.1,1008.1 2029.2,1044.6C2023.3,1081.1 2014.1,1117.7 2006.5,1154.2C1998.9,1190.7 1988.7,1227.3 1983.7,1263.8C1978.8,1300.3 1981.5,1336.9 1976.7,1373.4C1971.9,1409.9 1958.5,1464.7 1954.8,1483.0" fill="none" stroke="#262626" stroke-width="8" stroke-opacity="0.8"/><path d="M2115.1,935.0C2114.1,953.3 2113.7,1008.1 2108.8,1044.6C2104.0,1081.1 2092.7,1117.7 2086.0,1154.2C2079.4,1190.7 2072.3,1227.3 2068.7,1263.8C2065.2,1300.3 2067.2,1336.9 2064.6,1373.4C2061.9,1409.9 2054.7,1464.7 2052.8,1483.0" fill="none" stroke="#262626" stroke-width="8" stroke-opacity="0.8"/></g>
<g filter="url(#fi3_1)"><path d="M1653.7,935.0C1650.2,953.3 1640.9,1008.1 1632.9,1044.6C1624.9,1081.1 1615.0,1117.7 1605.8,1154.2C1596.6,1190.7 1586.9,1227.3 1577.7,1263.8C1568.4,1300.3 1556.9,1336.9 1550.3,1373.4C1543.7,1409.9 1539.9,1464.7 1537.8,1483.0" fill="none" stroke="#9a9a9a" stroke-width="2.5" stroke-opacity="0.55"/><path d="M1730.2,935.0C1728.0,953.3 1723.6,1008.1 1716.9,1044.6C1710.2,1081.1 1696.6,1117.7 1690.0,1154.2C1683.3,1190.7 1681.0,1227.3 1676.9,1263.8C1672.8,1300.3 1671.6,1336.9 1665.6,1373.4C1659.6,1409.9 1645.1,1464.7 1641.0,1483.0" fill="none" stroke="#9a9a9a" stroke-width="2.5" stroke-opacity="0.55"/><path d="M1807.6,935.0C1803.8,953.3 1791.3,1008.1 1784.8,1044.6C1778.2,1081.1 1772.6,1117.7 1768.1,1154.2C1763.6,1190.7 1764.0,1227.3 1757.6,1263.8C1751.2,1300.3 1736.8,1336.9 1729.6,1373.4C1722.3,1409.9 1716.7,1464.7 1714.1,1483.0" fill="none" stroke="#9a9a9a" stroke-width="2.5" stroke-opacity="0.55"/><path d="M1888.6,935.0C1886.6,953.3 1881.8,1008.1 1876.3,1044.6C1870.9,1081.1 1864.0,1117.7 1855.9,1154.2C1847.8,1190.7 1836.4,1227.3 1827.7,1263.8C1819.0,1300.3 1809.7,1336.9 1803.8,1373.4C1798.0,1409.9 1794.5,1464.7 1792.6,1483.0" fill="none" stroke="#9a9a9a" stroke-width="2.5" stroke-opacity="0.55"/><path d="M1957.5,935.0C1954.8,953.3 1946.1,1008.1 1941.0,1044.6C1935.8,1081.1 1931.8,1117.7 1926.5,1154.2C1921.2,1190.7 1917.7,1227.3 1909.2,1263.8C1900.7,1300.3 1882.4,1336.9 1875.4,1373.4C1868.3,1409.9 1868.4,1464.7 1867.0,1483.0" fill="none" stroke="#9a9a9a" stroke-width="2.5" stroke-opacity="0.55"/><path d="M2050.9,935.0C2048.8,953.3 2044.1,1008.1 2038.2,1044.6C2032.3,1081.1 2023.1,1117.7 2015.5,1154.2C2007.9,1190.7 1997.7,1227.3 1992.7,1263.8C1987.8,1300.3 1990.5,1336.9 1985.7,1373.4C1980.9,1409.9 1967.5,1464.7 1963.8,1483.0" fill="none" stroke="#9a9a9a" stroke-width="2.5" stroke-opacity="0.55"/><path d="M2124.1,935.0C2123.1,953.3 2122.7,1008.1 2117.8,1044.6C2113.0,1081.1 2101.7,1117.7 2095.0,1154.2C2088.4,1190.7 2081.3,1227.3 2077.7,1263.8C2074.2,1300.3 2076.2,1336.9 2073.6,1373.4C2070.9,1409.9 2063.7,1464.7 2061.8,1483.0" fill="none" stroke="#9a9a9a" stroke-width="2.5" stroke-opacity="0.55"/></g>
<circle cx="1582.9" cy="1190.0" r="1.4" fill="#c8c8c8" fill-opacity="0.68"/><circle cx="1541.8" cy="1368.8" r="1.1" fill="#c8c8c8" fill-opacity="0.70"/><circle cx="1540.8" cy="1358.1" r="1.9" fill="#c8c8c8" fill-opacity="0.75"/><circle cx="1536.3" cy="1420.0" r="1.8" fill="#c8c8c8" fill-opacity="0.59"/><circle cx="1620.1" cy="1038.7" r="1.3" fill="#c8c8c8" fill-opacity="0.65"/><circle cx="1602.9" cy="1133.8" r="1.6" fill="#c8c8c8" fill-opacity="0.56"/><circle cx="1621.9" cy="1016.7" r="2.6" fill="#c8c8c8" fill-opacity="0.49"/><circle cx="1635.8" cy="993.2" r="2.3" fill="#c8c8c8" fill-opacity="0.38"/><circle cx="1566.6" cy="1262.3" r="1.8" fill="#c8c8c8" fill-opacity="0.31"/><circle cx="1649.0" cy="953.4" r="2.4" fill="#c8c8c8" fill-opacity="0.54"/><circle cx="1569.5" cy="1245.8" r="2.2" fill="#c8c8c8" fill-opacity="0.51"/><circle cx="1536.4" cy="1453.7" r="2.3" fill="#c8c8c8" fill-opacity="0.78"/><circle cx="1609.2" cy="1074.2" r="1.3" fill="#c8c8c8" fill-opacity="0.39"/><circle cx="1628.8" cy="980.8" r="1.9" fill="#c8c8c8" fill-opacity="0.74"/><circle cx="1595.8" cy="1186.1" r="2.5" fill="#c8c8c8" fill-opacity="0.33"/><circle cx="1567.3" cy="1262.7" r="1.2" fill="#c8c8c8" fill-opacity="0.78"/><circle cx="1617.2" cy="1075.9" r="2.0" fill="#c8c8c8" fill-opacity="0.78"/><circle cx="1557.4" cy="1302.0" r="1.7" fill="#c8c8c8" fill-opacity="0.38"/><circle cx="1538.8" cy="1464.2" r="1.4" fill="#c8c8c8" fill-opacity="0.32"/><circle cx="1614.0" cy="1075.2" r="2.4" fill="#c8c8c8" fill-opacity="0.75"/><circle cx="1531.7" cy="1393.8" r="2.3" fill="#c8c8c8" fill-opacity="0.65"/><circle cx="1570.0" cy="1289.4" r="1.1" fill="#c8c8c8" fill-opacity="0.37"/><circle cx="1666.2" cy="1348.7" r="2.1" fill="#c8c8c8" fill-opacity="0.45"/><circle cx="1672.6" cy="1259.1" r="1.2" fill="#c8c8c8" fill-opacity="0.46"/><circle cx="1694.2" cy="1075.8" r="1.8" fill="#c8c8c8" fill-opacity="0.38"/><circle cx="1697.0" cy="1065.7" r="2.1" fill="#c8c8c8" fill-opacity="0.31"/><circle cx="1656.4" cy="1328.0" r="1.1" fill="#c8c8c8" fill-opacity="0.76"/><circle cx="1712.1" cy="1055.9" r="2.4" fill="#c8c8c8" fill-opacity="0.74"/><circle cx="1711.1" cy="1011.6" r="1.2" fill="#c8c8c8" fill-opacity="0.76"/><circle cx="1653.4" cy="1396.6" r="1.7" fill="#c8c8c8" fill-opacity="0.47"/><circle cx="1653.4" cy="1386.0" r="2.0" fill="#c8c8c8" fill-opacity="0.37"/><circle cx="1697.9" cy="1056.5" r="2.1" fill="#c8c8c8" fill-opacity="0.58"/><circle cx="1717.5" cy="1014.3" r="1.4" fill="#c8c8c8" fill-opacity="0.51"/><circle cx="1707.2" cy="1020.3" r="2.3" fill="#c8c8c8" fill-opacity="0.47"/><circle cx="1709.9" cy="1027.0" r="1.5" fill="#c8c8c8" fill-opacity="0.75"/><circle cx="1721.3" cy="997.6" r="1.1" fill="#c8c8c8" fill-opacity="0.75"/><circle cx="1659.4" cy="1301.2" r="1.8" fill="#c8c8c8" fill-opacity="0.44"/><circle cx="1695.3" cy="1076.3" r="1.6" fill="#c8c8c8" fill-opacity="0.80"/><circle cx="1639.0" cy="1482.0" r="1.2" fill="#c8c8c8" fill-opacity="0.44"/><circle cx="1637.7" cy="1426.1" r="2.2" fill="#c8c8c8" fill-opacity="0.45"/><circle cx="1626.9" cy="1471.3" r="2.3" fill="#c8c8c8" fill-opacity="0.47"/><circle cx="1703.9" cy="1011.8" r="2.3" fill="#c8c8c8" fill-opacity="0.56"/><circle cx="1707.8" cy="1036.8" r="2.5" fill="#c8c8c8" fill-opacity="0.41"/><circle cx="1664.0" cy="1248.1" r="1.3" fill="#c8c8c8" fill-opacity="0.69"/><circle cx="1728.1" cy="1325.0" r="1.1" fill="#c8c8c8" fill-opacity="0.34"/><circle cx="1747.3" cy="1268.5" r="1.4" fill="#c8c8c8" fill-opacity="0.40"/><circle cx="1750.2" cy="1270.6" r="2.3" fill="#c8c8c8" fill-opacity="0.59"/><circle cx="1768.6" cy="1045.9" r="2.2" fill="#c8c8c8" fill-opacity="0.50"/><circle cx="1724.4" cy="1330.5" r="2.3" fill="#c8c8c8" fill-opacity="0.47"/><circle cx="1723.2" cy="1396.4" r="1.8" fill="#c8c8c8" fill-opacity="0.31"/><circle cx="1711.7" cy="1433.8" r="2.4" fill="#c8c8c8" fill-opacity="0.43"/><circle cx="1782.7" cy="1037.0" r="1.6" fill="#c8c8c8" fill-opacity="0.38"/><circle cx="1763.0" cy="1138.4" r="1.0" fill="#c8c8c8" fill-opacity="0.56"/><circle cx="1757.0" cy="1179.3" r="1.2" fill="#c8c8c8" fill-opacity="0.66"/><circle cx="1725.1" cy="1382.5" r="1.5" fill="#c8c8c8" fill-opacity="0.66"/><circle cx="1764.7" cy="1144.0" r="1.1" fill="#c8c8c8" fill-opacity="0.74"/><circle cx="1708.6" cy="1457.8" r="1.8" fill="#c8c8c8" fill-opacity="0.57"/><circle cx="1744.2" cy="1229.5" r="2.5" fill="#c8c8c8" fill-opacity="0.41"/><circle cx="1771.4" cy="1035.0" r="1.4" fill="#c8c8c8" fill-opacity="0.71"/><circle cx="1788.7" cy="951.5" r="2.1" fill="#c8c8c8" fill-opacity="0.40"/><circle cx="1798.2" cy="944.7" r="1.9" fill="#c8c8c8" fill-opacity="0.56"/><circle cx="1727.9" cy="1320.0" r="2.4" fill="#c8c8c8" fill-opacity="0.66"/><circle cx="1787.4" cy="959.8" r="1.8" fill="#c8c8c8" fill-opacity="0.55"/><circle cx="1763.1" cy="1088.2" r="1.6" fill="#c8c8c8" fill-opacity="0.37"/><circle cx="1754.8" cy="1259.3" r="1.2" fill="#c8c8c8" fill-opacity="0.59"/><circle cx="1722.7" cy="1344.1" r="2.3" fill="#c8c8c8" fill-opacity="0.77"/><circle cx="1846.8" cy="1148.0" r="2.3" fill="#c8c8c8" fill-opacity="0.56"/><circle cx="1854.4" cy="1151.8" r="2.2" fill="#c8c8c8" fill-opacity="0.47"/><circle cx="1860.6" cy="1066.7" r="1.7" fill="#c8c8c8" fill-opacity="0.79"/><circle cx="1801.2" cy="1375.8" r="2.3" fill="#c8c8c8" fill-opacity="0.72"/><circle cx="1876.6" cy="964.3" r="2.5" fill="#c8c8c8" fill-opacity="0.77"/><circle cx="1861.1" cy="1071.6" r="2.0" fill="#c8c8c8" fill-opacity="0.48"/><circle cx="1821.6" cy="1225.9" r="1.7" fill="#c8c8c8" fill-opacity="0.55"/><circle cx="1872.6" cy="946.4" r="2.6" fill="#c8c8c8" fill-opacity="0.69"/><circle cx="1789.3" cy="1448.4" r="2.3" fill="#c8c8c8" fill-opacity="0.74"/><circle cx="1782.6" cy="1419.8" r="2.0" fill="#c8c8c8" fill-opacity="0.43"/><circle cx="1805.7" cy="1306.8" r="1.9" fill="#c8c8c8" fill-opacity="0.76"/><circle cx="1812.2" cy="1275.4" r="1.8" fill="#c8c8c8" fill-opacity="0.52"/><circle cx="1782.9" cy="1456.1" r="1.5" fill="#c8c8c8" fill-opacity="0.62"/><circle cx="1873.7" cy="1001.0" r="2.5" fill="#c8c8c8" fill-opacity="0.56"/><circle cx="1859.8" cy="1082.1" r="1.9" fill="#c8c8c8" fill-opacity="0.37"/><circle cx="1866.1" cy="1002.9" r="1.5" fill="#c8c8c8" fill-opacity="0.50"/><circle cx="1854.2" cy="1093.0" r="1.1" fill="#c8c8c8" fill-opacity="0.57"/><circle cx="1794.4" cy="1395.2" r="1.9" fill="#c8c8c8" fill-opacity="0.63"/><circle cx="1870.6" cy="1045.3" r="1.7" fill="#c8c8c8" fill-opacity="0.57"/><circle cx="1816.7" cy="1270.8" r="1.5" fill="#c8c8c8" fill-opacity="0.42"/><circle cx="1865.3" cy="1056.4" r="1.6" fill="#c8c8c8" fill-opacity="0.59"/><circle cx="1876.5" cy="941.5" r="2.4" fill="#c8c8c8" fill-opacity="0.42"/><circle cx="1903.8" cy="1240.0" r="1.5" fill="#c8c8c8" fill-opacity="0.79"/><circle cx="1929.4" cy="1096.9" r="1.3" fill="#c8c8c8" fill-opacity="0.33"/><circle cx="1862.4" cy="1412.5" r="1.1" fill="#c8c8c8" fill-opacity="0.49"/><circle cx="1917.8" cy="1176.1" r="1.2" fill="#c8c8c8" fill-opacity="0.41"/><circle cx="1863.5" cy="1460.7" r="1.2" fill="#c8c8c8" fill-opacity="0.47"/><circle cx="1923.7" cy="1128.1" r="2.0" fill="#c8c8c8" fill-opacity="0.72"/><circle cx="1865.8" cy="1385.0" r="2.2" fill="#c8c8c8" fill-opacity="0.67"/><circle cx="1872.8" cy="1351.3" r="2.3" fill="#c8c8c8" fill-opacity="0.65"/><circle cx="1855.6" cy="1436.3" r="2.4" fill="#c8c8c8" fill-opacity="0.30"/><circle cx="1873.5" cy="1354.6" r="1.8" fill="#c8c8c8" fill-opacity="0.78"/><circle cx="1901.3" cy="1248.4" r="2.3" fill="#c8c8c8" fill-opacity="0.74"/><circle cx="1897.0" cy="1267.8" r="1.7" fill="#c8c8c8" fill-opacity="0.53"/><circle cx="1876.1" cy="1331.2" r="1.6" fill="#c8c8c8" fill-opacity="0.58"/><circle cx="1915.8" cy="1145.7" r="2.3" fill="#c8c8c8" fill-opacity="0.72"/><circle cx="1908.0" cy="1208.8" r="1.3" fill="#c8c8c8" fill-opacity="0.45"/><circle cx="1937.7" cy="1014.5" r="1.9" fill="#c8c8c8" fill-opacity="0.34"/><circle cx="1858.5" cy="1439.2" r="2.3" fill="#c8c8c8" fill-opacity="0.72"/><circle cx="1855.0" cy="1460.4" r="1.7" fill="#c8c8c8" fill-opacity="0.76"/><circle cx="1940.4" cy="940.9" r="1.9" fill="#c8c8c8" fill-opacity="0.55"/><circle cx="1865.7" cy="1439.3" r="1.9" fill="#c8c8c8" fill-opacity="0.80"/><circle cx="1907.6" cy="1218.6" r="2.1" fill="#c8c8c8" fill-opacity="0.49"/><circle cx="1922.1" cy="1131.0" r="1.6" fill="#c8c8c8" fill-opacity="0.77"/><circle cx="1981.5" cy="1305.7" r="1.2" fill="#c8c8c8" fill-opacity="0.49"/><circle cx="2007.4" cy="1154.7" r="1.9" fill="#c8c8c8" fill-opacity="0.74"/><circle cx="1958.5" cy="1463.5" r="1.7" fill="#c8c8c8" fill-opacity="0.61"/><circle cx="1952.8" cy="1480.9" r="1.8" fill="#c8c8c8" fill-opacity="0.71"/><circle cx="2028.2" cy="1028.6" r="2.6" fill="#c8c8c8" fill-opacity="0.71"/><circle cx="1987.4" cy="1215.9" r="2.4" fill="#c8c8c8" fill-opacity="0.64"/><circle cx="1982.3" cy="1384.7" r="2.4" fill="#c8c8c8" fill-opacity="0.51"/><circle cx="2028.6" cy="1020.7" r="1.8" fill="#c8c8c8" fill-opacity="0.55"/><circle cx="2024.9" cy="1038.1" r="2.0" fill="#c8c8c8" fill-opacity="0.60"/><circle cx="2019.7" cy="1128.5" r="2.0" fill="#c8c8c8" fill-opacity="0.32"/><circle cx="2009.8" cy="1160.5" r="1.5" fill="#c8c8c8" fill-opacity="0.65"/><circle cx="2038.5" cy="937.1" r="2.3" fill="#c8c8c8" fill-opacity="0.59"/><circle cx="1976.5" cy="1301.1" r="1.8" fill="#c8c8c8" fill-opacity="0.58"/><circle cx="2024.1" cy="1080.8" r="1.9" fill="#c8c8c8" fill-opacity="0.80"/><circle cx="1985.2" cy="1249.8" r="1.2" fill="#c8c8c8" fill-opacity="0.38"/><circle cx="1971.8" cy="1351.2" r="1.2" fill="#c8c8c8" fill-opacity="0.39"/><circle cx="1997.7" cy="1221.3" r="2.0" fill="#c8c8c8" fill-opacity="0.70"/><circle cx="2030.1" cy="969.0" r="2.2" fill="#c8c8c8" fill-opacity="0.46"/><circle cx="1977.3" cy="1327.1" r="1.3" fill="#c8c8c8" fill-opacity="0.43"/><circle cx="2042.0" cy="989.5" r="1.9" fill="#c8c8c8" fill-opacity="0.47"/><circle cx="1999.0" cy="1181.5" r="1.1" fill="#c8c8c8" fill-opacity="0.75"/><circle cx="1993.1" cy="1254.3" r="1.7" fill="#c8c8c8" fill-opacity="0.61"/><circle cx="2095.9" cy="1071.6" r="2.5" fill="#c8c8c8" fill-opacity="0.73"/><circle cx="2102.1" cy="1107.5" r="2.3" fill="#c8c8c8" fill-opacity="0.45"/><circle cx="2076.0" cy="1265.2" r="1.8" fill="#c8c8c8" fill-opacity="0.77"/><circle cx="2102.2" cy="1068.1" r="2.1" fill="#c8c8c8" fill-opacity="0.41"/><circle cx="2102.4" cy="1104.4" r="1.8" fill="#c8c8c8" fill-opacity="0.70"/><circle cx="2098.7" cy="1068.4" r="1.6" fill="#c8c8c8" fill-opacity="0.39"/><circle cx="2051.1" cy="1467.4" r="1.9" fill="#c8c8c8" fill-opacity="0.36"/><circle cx="2072.6" cy="1227.5" r="1.6" fill="#c8c8c8" fill-opacity="0.33"/><circle cx="2116.5" cy="1002.6" r="1.6" fill="#c8c8c8" fill-opacity="0.42"/><circle cx="2105.7" cy="1039.8" r="1.4" fill="#c8c8c8" fill-opacity="0.32"/><circle cx="2064.9" cy="1299.0" r="1.2" fill="#c8c8c8" fill-opacity="0.65"/><circle cx="2108.5" cy="985.8" r="2.3" fill="#c8c8c8" fill-opacity="0.36"/><circle cx="2087.7" cy="1177.9" r="2.3" fill="#c8c8c8" fill-opacity="0.38"/><circle cx="2095.0" cy="1128.4" r="1.6" fill="#c8c8c8" fill-opacity="0.78"/><circle cx="2115.1" cy="1049.0" r="1.8" fill="#c8c8c8" fill-opacity="0.41"/><circle cx="2075.6" cy="1183.1" r="2.1" fill="#c8c8c8" fill-opacity="0.43"/><circle cx="2060.1" cy="1428.0" r="1.6" fill="#c8c8c8" fill-opacity="0.42"/><circle cx="2064.0" cy="1268.3" r="2.4" fill="#c8c8c8" fill-opacity="0.36"/><circle cx="2076.9" cy="1216.1" r="1.4" fill="#c8c8c8" fill-opacity="0.69"/><circle cx="2090.3" cy="1145.9" r="1.9" fill="#c8c8c8" fill-opacity="0.46"/><circle cx="2080.6" cy="1148.7" r="1.3" fill="#c8c8c8" fill-opacity="0.73"/><circle cx="2097.7" cy="1110.9" r="1.2" fill="#c8c8c8" fill-opacity="0.58"/><circle cx="1650.4" cy="1209.2" r="1.4" fill="#c0c0c0" fill-opacity="0.33"/><circle cx="1616.4" cy="1070.0" r="1.2" fill="#c0c0c0" fill-opacity="0.59"/><circle cx="1596.7" cy="1159.9" r="2.3" fill="#c0c0c0" fill-opacity="0.61"/><circle cx="2004.4" cy="1392.5" r="1.2" fill="#c0c0c0" fill-opacity="0.41"/><circle cx="1425.1" cy="1300.2" r="1.9" fill="#c0c0c0" fill-opacity="0.44"/><circle cx="1685.1" cy="1289.8" r="2.0" fill="#c0c0c0" fill-opacity="0.40"/><circle cx="1979.9" cy="1133.9" r="1.9" fill="#c0c0c0" fill-opacity="0.37"/><circle cx="1483.2" cy="1418.6" r="2.0" fill="#c0c0c0" fill-opacity="0.59"/><circle cx="1432.5" cy="975.3" r="1.2" fill="#c0c0c0" fill-opacity="0.38"/><circle cx="1610.8" cy="1148.4" r="1.1" fill="#c0c0c0" fill-opacity="0.42"/><circle cx="1838.4" cy="1046.3" r="2.2" fill="#c0c0c0" fill-opacity="0.53"/><circle cx="1891.6" cy="1084.4" r="1.6" fill="#c0c0c0" fill-opacity="0.57"/><circle cx="1642.0" cy="955.5" r="2.2" fill="#c0c0c0" fill-opacity="0.61"/><circle cx="1599.4" cy="976.8" r="2.2" fill="#c0c0c0" fill-opacity="0.54"/><circle cx="1437.1" cy="1079.2" r="1.2" fill="#c0c0c0" fill-opacity="0.62"/><circle cx="1547.7" cy="1419.6" r="2.0" fill="#c0c0c0" fill-opacity="0.33"/><circle cx="1876.7" cy="1155.0" r="2.0" fill="#c0c0c0" fill-opacity="0.63"/><circle cx="1595.9" cy="1000.7" r="2.3" fill="#c0c0c0" fill-opacity="0.47"/><circle cx="2036.6" cy="1306.3" r="2.0" fill="#c0c0c0" fill-opacity="0.63"/><circle cx="1831.5" cy="1185.0" r="1.1" fill="#c0c0c0" fill-opacity="0.58"/><circle cx="1695.8" cy="1215.0" r="2.3" fill="#c0c0c0" fill-opacity="0.35"/><circle cx="1922.3" cy="977.2" r="2.0" fill="#c0c0c0" fill-opacity="0.62"/><circle cx="1582.4" cy="1232.6" r="2.4" fill="#c0c0c0" fill-opacity="0.56"/><circle cx="1774.3" cy="1081.8" r="1.1" fill="#c0c0c0" fill-opacity="0.44"/><circle cx="1684.5" cy="1057.3" r="1.4" fill="#c0c0c0" fill-opacity="0.35"/><circle cx="1885.0" cy="1295.5" r="1.3" fill="#c0c0c0" fill-opacity="0.40"/><circle cx="1754.9" cy="1181.1" r="2.3" fill="#c0c0c0" fill-opacity="0.44"/><circle cx="1608.3" cy="1404.4" r="1.2" fill="#c0c0c0" fill-opacity="0.53"/><circle cx="1631.5" cy="1369.2" r="1.8" fill="#c0c0c0" fill-opacity="0.60"/><circle cx="1519.9" cy="1293.6" r="1.8" fill="#c0c0c0" fill-opacity="0.48"/><circle cx="1925.2" cy="1377.2" r="1.2" fill="#c0c0c0" fill-opacity="0.42"/><circle cx="1649.8" cy="1059.9" r="1.1" fill="#c0c0c0" fill-opacity="0.41"/><circle cx="1538.8" cy="1311.4" r="1.6" fill="#c0c0c0" fill-opacity="0.35"/><circle cx="1625.3" cy="1193.1" r="1.5" fill="#c0c0c0" fill-opacity="0.37"/><circle cx="1453.8" cy="960.5" r="2.4" fill="#c0c0c0" fill-opacity="0.60"/><circle cx="1462.0" cy="1319.3" r="2.4" fill="#c0c0c0" fill-opacity="0.53"/><circle cx="1478.9" cy="1203.3" r="1.6" fill="#c0c0c0" fill-opacity="0.38"/><circle cx="1773.7" cy="959.2" r="2.3" fill="#c0c0c0" fill-opacity="0.56"/><circle cx="1831.2" cy="1430.1" r="1.9" fill="#c0c0c0" fill-opacity="0.40"/><circle cx="1572.0" cy="1025.4" r="1.0" fill="#c0c0c0" fill-opacity="0.61"/><circle cx="1975.1" cy="1105.5" r="1.3" fill="#c0c0c0" fill-opacity="0.56"/><circle cx="1979.2" cy="1425.8" r="1.2" fill="#c0c0c0" fill-opacity="0.61"/><circle cx="1968.8" cy="1332.1" r="1.5" fill="#c0c0c0" fill-opacity="0.37"/><circle cx="1965.4" cy="1117.6" r="1.5" fill="#c0c0c0" fill-opacity="0.52"/><circle cx="1655.7" cy="1377.3" r="1.3" fill="#c0c0c0" fill-opacity="0.32"/><circle cx="1789.9" cy="1274.1" r="2.1" fill="#c0c0c0" fill-opacity="0.58"/><circle cx="2019.6" cy="1435.0" r="1.7" fill="#c0c0c0" fill-opacity="0.50"/><circle cx="1511.9" cy="1107.2" r="1.8" fill="#c0c0c0" fill-opacity="0.33"/><circle cx="1872.1" cy="1038.1" r="1.6" fill="#c0c0c0" fill-opacity="0.69"/><circle cx="1465.9" cy="975.3" r="1.6" fill="#c0c0c0" fill-opacity="0.38"/><circle cx="1895.9" cy="956.4" r="2.2" fill="#c0c0c0" fill-opacity="0.64"/><circle cx="1939.3" cy="1171.1" r="1.4" fill="#c0c0c0" fill-opacity="0.56"/><circle cx="1754.4" cy="1169.0" r="1.5" fill="#c0c0c0" fill-opacity="0.48"/><circle cx="1857.3" cy="1374.6" r="2.3" fill="#c0c0c0" fill-opacity="0.37"/><circle cx="1605.8" cy="1180.1" r="1.8" fill="#c0c0c0" fill-opacity="0.44"/><circle cx="1537.7" cy="998.2" r="1.5" fill="#c0c0c0" fill-opacity="0.48"/><circle cx="2064.5" cy="1416.6" r="2.2" fill="#c0c0c0" fill-opacity="0.69"/><circle cx="2058.1" cy="1269.9" r="2.1" fill="#c0c0c0" fill-opacity="0.32"/><circle cx="1864.3" cy="1264.4" r="1.4" fill="#c0c0c0" fill-opacity="0.53"/><circle cx="2052.0" cy="1199.2" r="1.9" fill="#c0c0c0" fill-opacity="0.42"/>
<g transform="translate(1744.5,1209.0) skewX(-10) translate(-1744.5,-1209.0)">
<rect x="1285" y="955" width="919" height="508" filter="url(#streakV2)" opacity="0.22" style="mix-blend-mode:overlay"/>
</g>
<rect x="1405" y="955" width="679" height="508" filter="url(#blob)" opacity="0.18" style="mix-blend-mode:overlay"/>
<rect x="1405" y="955" width="679" height="508" filter="url(#grain)" opacity="0.06" style="mix-blend-mode:overlay"/>

</g>
<text x="1929" y="1432.5" font-size="48.5" style="fill:#fff">500nm</text>
<rect x="1964" y="1439" width="85" height="15" fill="#fff"/>
<polygon points="1154.2,730.8 1169.8,722.8 1183.0,737.6 1183.4,741.2 1194.6,740.8 1194.6,772.0 1165.8,762.0 1166.6,747.2" fill="#F4C400" stroke="#9c7c08" stroke-width="1.6" stroke-linejoin="round"/>
<rect x="279.2" y="91.7" width="1840.8" height="1481.6" fill="none" stroke="#000" stroke-width="7.3"/>
<path d="M394.3,1573.3V1543.3M624.4,1573.3V1543.3M854.5,1573.3V1543.3M1084.6,1573.3V1543.3M1314.7,1573.3V1543.3M1544.8,1573.3V1543.3M1774.9,1573.3V1543.3M2005.0,1573.3V1543.3M509.4,1573.3V1557.3M739.5,1573.3V1557.3M969.5,1573.3V1557.3M1199.7,1573.3V1557.3M1429.8,1573.3V1557.3M1659.9,1573.3V1557.3M1890.0,1573.3V1557.3M279.2,1326.4H310.2M279.2,1079.4H310.2M279.2,832.5H310.2M279.2,585.6H310.2M279.2,338.6H310.2M279.2,1449.8H296.2M279.2,1202.9H296.2M279.2,956.0H296.2M279.2,709.0H296.2M279.2,462.1H296.2M279.2,215.2H296.2" stroke="#000" stroke-width="7.5" fill="none"/>
<text transform="translate(248,1595.3) scale(1,1.025)" font-size="78.5" text-anchor="end">100</text>
<text transform="translate(248,1348.4) scale(1,1.025)" font-size="78.5" text-anchor="end">200</text>
<text transform="translate(248,1101.4) scale(1,1.025)" font-size="78.5" text-anchor="end">300</text>
<text transform="translate(248,854.5) scale(1,1.025)" font-size="78.5" text-anchor="end">400</text>
<text transform="translate(248,607.6) scale(1,1.025)" font-size="78.5" text-anchor="end">500</text>
<text transform="translate(248,360.6) scale(1,1.025)" font-size="78.5" text-anchor="end">600</text>
<text transform="translate(248,113.7) scale(1,1.025)" font-size="78.5" text-anchor="end">700</text>
<text transform="translate(394.3,1665) scale(1,1.025)" font-size="78.5" text-anchor="middle">60</text>
<text transform="translate(624.4,1665) scale(1,1.025)" font-size="78.5" text-anchor="middle">70</text>
<text transform="translate(854.5,1665) scale(1,1.025)" font-size="78.5" text-anchor="middle">80</text>
<text transform="translate(1084.6,1665) scale(1,1.025)" font-size="78.5" text-anchor="middle">90</text>
<text transform="translate(1314.7,1665) scale(1,1.025)" font-size="78.5" text-anchor="middle">100</text>
<text transform="translate(1544.8,1665) scale(1,1.025)" font-size="78.5" text-anchor="middle">110</text>
<text transform="translate(1774.9,1665) scale(1,1.025)" font-size="78.5" text-anchor="middle">120</text>
<text transform="translate(2005.0,1665) scale(1,1.025)" font-size="78.5" text-anchor="middle">130</text>
<text x="1057.2" y="1768.6" font-size="84">VED(J/mm<tspan font-size="50" dy="-42">3</tspan><tspan dy="42">)</tspan></text>
<text transform="translate(95.5,1489.7) rotate(-90) scale(1,0.94)" font-size="84">Primary dendritic arm apacing(mm)</text>
<polyline points="394.3,956.2 1222.5,783.2 1751.8,500.5" fill="none" stroke="#000" stroke-width="11" stroke-linejoin="round" stroke-linecap="round"/>
<rect x="377.3" y="940.0" width="31" height="30" fill="#000"/>
<rect x="1205.7" y="766.0" width="31" height="30" fill="#000"/>
<rect x="1735.8" y="485.2" width="31" height="30" fill="#000"/>
<polyline points="394.3,959.4 1222.7,933.0 1751.9,886.8" fill="none" stroke="#f00" stroke-width="11" stroke-linejoin="round" stroke-linecap="round"/>
<ellipse cx="393.8" cy="959.4" rx="16.2" ry="17.3" fill="#f00"/>
<ellipse cx="1222.2" cy="933.0" rx="16.2" ry="17.3" fill="#f00"/>
<ellipse cx="1751.4" cy="886.8" rx="16.2" ry="17.3" fill="#f00"/>
<path d="M394.3,709.0V940.5M394.3,971.5V1202.9M377.5,709.0H411.1M377.5,1202.9H411.1M1222.7,597.2V765.1M1222.7,796.1V968.3M1205.9,597.2H1239.5M1205.9,968.3H1239.5M1751.9,384.1V484.9M1751.9,515.9V617.9M1735.1,384.1H1768.7M1735.1,617.9H1768.7" stroke="#000" stroke-width="7.8" fill="none"/>
<path d="M1222.5,161.9H1393.5" stroke="#000" stroke-width="11" stroke-linecap="round"/>
<rect x="1291.5" y="145.5" width="31.5" height="31.5" fill="#000"/>
<path d="M1222.5,258.3H1393.5" stroke="#f00" stroke-width="11" stroke-linecap="round"/>
<ellipse cx="1307.6" cy="258.4" rx="16.2" ry="17.2" fill="#f00"/>
<text x="1414" y="185.7" font-size="77.5">Experimental value</text>
<text x="1413.5" y="283.8" font-size="77.5">Simulated value</text>
</svg></body></html>
